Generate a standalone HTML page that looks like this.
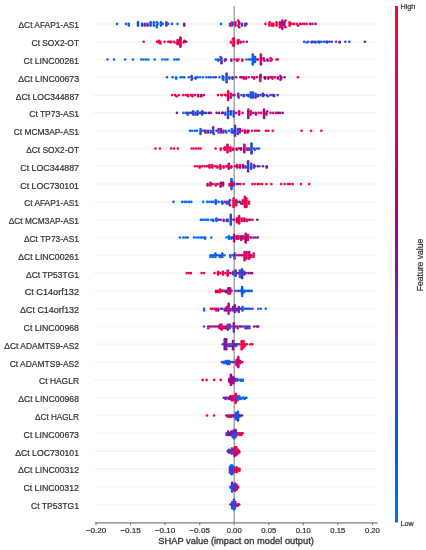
<!DOCTYPE html>
<html><head><meta charset="utf-8"><style>
html,body{margin:0;padding:0;background:#fff;}
svg{display:block;will-change:transform;}
text{font-family:"Liberation Sans",sans-serif;}
</style></head><body>
<svg width="426" height="550" viewBox="0 0 426 550">
<defs><linearGradient id="cb" x1="0" y1="0" x2="0" y2="1"><stop offset="0.000" stop-color="#ff0036"/><stop offset="0.050" stop-color="#fe0041"/><stop offset="0.100" stop-color="#f6004b"/><stop offset="0.150" stop-color="#ed0056"/><stop offset="0.200" stop-color="#e20060"/><stop offset="0.250" stop-color="#d6006b"/><stop offset="0.300" stop-color="#c70075"/><stop offset="0.350" stop-color="#b8007e"/><stop offset="0.400" stop-color="#a70087"/><stop offset="0.450" stop-color="#950990"/><stop offset="0.500" stop-color="#831297"/><stop offset="0.550" stop-color="#761ea6"/><stop offset="0.600" stop-color="#692ab5"/><stop offset="0.650" stop-color="#5934c2"/><stop offset="0.700" stop-color="#473ecf"/><stop offset="0.750" stop-color="#3147da"/><stop offset="0.800" stop-color="#1250e3"/><stop offset="0.850" stop-color="#0058eb"/><stop offset="0.900" stop-color="#0061f2"/><stop offset="0.950" stop-color="#0068f6"/><stop offset="1.000" stop-color="#0070f9"/></linearGradient></defs>
<rect width="426" height="550" fill="#fff"/>
<g>
<g stroke="#f6f6f6" stroke-width="1.6"><line x1="93.5" x2="377.7" y1="23.9" y2="23.9"/><line x1="93.5" x2="377.7" y1="41.7" y2="41.7"/><line x1="93.5" x2="377.7" y1="59.5" y2="59.5"/><line x1="93.5" x2="377.7" y1="77.3" y2="77.3"/><line x1="93.5" x2="377.7" y1="95.1" y2="95.1"/><line x1="93.5" x2="377.7" y1="112.9" y2="112.9"/><line x1="93.5" x2="377.7" y1="130.7" y2="130.7"/><line x1="93.5" x2="377.7" y1="148.5" y2="148.5"/><line x1="93.5" x2="377.7" y1="166.3" y2="166.3"/><line x1="93.5" x2="377.7" y1="184.1" y2="184.1"/><line x1="93.5" x2="377.7" y1="201.9" y2="201.9"/><line x1="93.5" x2="377.7" y1="219.7" y2="219.7"/><line x1="93.5" x2="377.7" y1="237.5" y2="237.5"/><line x1="93.5" x2="377.7" y1="255.3" y2="255.3"/><line x1="93.5" x2="377.7" y1="273.1" y2="273.1"/><line x1="93.5" x2="377.7" y1="290.9" y2="290.9"/><line x1="93.5" x2="377.7" y1="308.7" y2="308.7"/><line x1="93.5" x2="377.7" y1="326.5" y2="326.5"/><line x1="93.5" x2="377.7" y1="344.3" y2="344.3"/><line x1="93.5" x2="377.7" y1="362.1" y2="362.1"/><line x1="93.5" x2="377.7" y1="379.9" y2="379.9"/><line x1="93.5" x2="377.7" y1="397.7" y2="397.7"/><line x1="93.5" x2="377.7" y1="415.5" y2="415.5"/><line x1="93.5" x2="377.7" y1="433.3" y2="433.3"/><line x1="93.5" x2="377.7" y1="451.1" y2="451.1"/><line x1="93.5" x2="377.7" y1="468.9" y2="468.9"/><line x1="93.5" x2="377.7" y1="486.7" y2="486.7"/><line x1="93.5" x2="377.7" y1="504.5" y2="504.5"/></g>
<line x1="234.2" x2="234.2" y1="6.0" y2="522.8" stroke="#999" stroke-width="1.3"/>
<g><circle r="1.3" cx="265.4" cy="23.9" fill="#ff003b"/><circle r="1.3" cx="184.2" cy="25.6" fill="#8e0c92"/><circle r="1.3" cx="269.7" cy="22.2" fill="#f80049"/><circle r="1.3" cx="282.3" cy="20.6" fill="#c90074"/><circle r="1.3" cx="150.6" cy="22.2" fill="#1d4de1"/><circle r="1.3" cx="239.2" cy="22.2" fill="#9f038b"/><circle r="1.3" cx="128.8" cy="23.9" fill="#0062f3"/><circle r="1.3" cx="177.6" cy="23.9" fill="#006bf8"/><circle r="1.3" cx="150.6" cy="23.9" fill="#3545d8"/><circle r="1.3" cx="296.7" cy="23.9" fill="#ec0057"/><circle r="1.3" cx="160.9" cy="22.2" fill="#005bee"/><circle r="1.3" cx="269.4" cy="23.9" fill="#ff003d"/><circle r="1.3" cx="282.3" cy="22.2" fill="#a40089"/><circle r="1.3" cx="284.4" cy="23.9" fill="#b6007f"/><circle r="1.3" cx="235.4" cy="23.9" fill="#ff003b"/><circle r="1.3" cx="304.4" cy="23.9" fill="#e8005b"/><circle r="1.3" cx="282.3" cy="27.2" fill="#e6005d"/><circle r="1.3" cx="271.9" cy="25.6" fill="#ff0037"/><circle r="1.3" cx="273.4" cy="23.9" fill="#eb0058"/><circle r="1.3" cx="284.4" cy="25.6" fill="#b40081"/><circle r="1.3" cx="156.8" cy="25.6" fill="#0057ea"/><circle r="1.3" cx="147.5" cy="23.9" fill="#5f30be"/><circle r="1.3" cx="162.7" cy="23.9" fill="#4d3bcb"/><circle r="1.3" cx="166.4" cy="22.2" fill="#2e48db"/><circle r="1.3" cx="230.0" cy="23.9" fill="#f3004f"/><circle r="1.3" cx="271.9" cy="23.9" fill="#ff003d"/><circle r="1.3" cx="153.9" cy="25.6" fill="#005ef0"/><circle r="1.3" cx="138.0" cy="25.6" fill="#0054e8"/><circle r="1.3" cx="153.9" cy="23.9" fill="#006cf8"/><circle r="1.3" cx="300.1" cy="23.9" fill="#e4005f"/><circle r="1.3" cx="238.2" cy="20.6" fill="#ff0039"/><circle r="1.3" cx="282.3" cy="28.9" fill="#d6006a"/><circle r="1.3" cx="312.4" cy="23.9" fill="#a70087"/><circle r="1.3" cx="153.9" cy="22.2" fill="#0062f2"/><circle r="1.3" cx="156.8" cy="27.2" fill="#0061f2"/><circle r="1.3" cx="144.7" cy="25.6" fill="#7321aa"/><circle r="1.3" cx="232.0" cy="22.2" fill="#0068f6"/><circle r="1.3" cx="156.8" cy="22.2" fill="#4041d3"/><circle r="1.3" cx="142.1" cy="23.9" fill="#0056e9"/><circle r="1.3" cx="298.0" cy="25.6" fill="#ff003c"/><circle r="1.3" cx="147.6" cy="25.6" fill="#821298"/><circle r="1.3" cx="245.2" cy="25.6" fill="#612fbc"/><circle r="1.3" cx="279.9" cy="22.2" fill="#d6006a"/><circle r="1.3" cx="232.0" cy="25.6" fill="#006bf8"/><circle r="1.3" cx="276.6" cy="22.2" fill="#fd0042"/><circle r="1.3" cx="160.9" cy="25.6" fill="#005cee"/><circle r="1.3" cx="291.7" cy="23.9" fill="#ff003c"/><circle r="1.3" cx="242.0" cy="25.6" fill="#5437c6"/><circle r="1.3" cx="285.6" cy="20.6" fill="#f5004d"/><circle r="1.3" cx="117.1" cy="23.9" fill="#006bf8"/><circle r="1.3" cx="150.6" cy="25.6" fill="#194ee2"/><circle r="1.3" cx="269.4" cy="25.6" fill="#ff0039"/><circle r="1.3" cx="246.6" cy="23.9" fill="#5835c3"/><circle r="1.3" cx="128.8" cy="25.6" fill="#0068f6"/><circle r="1.3" cx="279.9" cy="27.2" fill="#ff003a"/><circle r="1.3" cx="315.6" cy="23.9" fill="#a70087"/><circle r="1.3" cx="276.6" cy="25.6" fill="#f3004f"/><circle r="1.3" cx="282.3" cy="25.6" fill="#e00062"/><circle r="1.3" cx="289.6" cy="22.2" fill="#f90048"/><circle r="1.3" cx="276.6" cy="23.9" fill="#ff003b"/><circle r="1.3" cx="238.2" cy="25.6" fill="#ff003d"/><circle r="1.3" cx="239.2" cy="27.2" fill="#98078e"/><circle r="1.3" cx="294.0" cy="23.9" fill="#ef0054"/><circle r="1.3" cx="239.2" cy="23.9" fill="#d0006f"/><circle r="1.3" cx="233.3" cy="23.9" fill="#ef0054"/><circle r="1.3" cx="142.1" cy="25.6" fill="#3147da"/><circle r="1.3" cx="221.1" cy="23.9" fill="#006bf8"/><circle r="1.3" cx="282.3" cy="23.9" fill="#a0028b"/><circle r="1.3" cx="302.5" cy="23.9" fill="#ec0057"/><circle r="1.3" cx="245.2" cy="23.9" fill="#642dba"/><circle r="1.3" cx="144.7" cy="23.9" fill="#652db9"/><circle r="1.3" cx="138.0" cy="23.9" fill="#3645d8"/><circle r="1.3" cx="157.7" cy="23.9" fill="#0068f6"/><circle r="1.3" cx="138.0" cy="22.2" fill="#0452e6"/><circle r="1.3" cx="166.4" cy="25.6" fill="#483dce"/><circle r="1.3" cx="279.8" cy="23.9" fill="#841196"/><circle r="1.3" cx="184.2" cy="23.9" fill="#7f159b"/><circle r="1.3" cx="166.4" cy="23.9" fill="#761fa7"/><circle r="1.3" cx="172.0" cy="23.9" fill="#006bf8"/><circle r="1.3" cx="242.0" cy="23.9" fill="#6c27b2"/><circle r="1.3" cx="289.6" cy="25.6" fill="#fb0045"/><circle r="1.3" cx="160.9" cy="23.9" fill="#0063f3"/><circle r="1.3" cx="310.0" cy="23.9" fill="#a70087"/><circle r="1.3" cx="235.4" cy="25.6" fill="#fc0044"/><circle r="1.3" cx="235.4" cy="22.2" fill="#e8005b"/><circle r="1.3" cx="230.0" cy="25.6" fill="#f3004f"/><circle r="1.3" cx="284.4" cy="22.2" fill="#9d048c"/><circle r="1.3" cx="279.9" cy="25.6" fill="#df0063"/><circle r="1.3" cx="306.7" cy="23.9" fill="#f3004f"/><circle r="1.3" cx="168.2" cy="23.9" fill="#006bf8"/><circle r="1.3" cx="126.0" cy="23.9" fill="#006bf8"/><circle r="1.3" cx="273.4" cy="25.6" fill="#fa0047"/><circle r="1.3" cx="232.0" cy="23.9" fill="#006af7"/><circle r="1.3" cx="289.6" cy="23.9" fill="#ff0037"/><circle r="1.3" cx="285.6" cy="27.2" fill="#ff0038"/><circle r="1.3" cx="364.9" cy="41.7" fill="#950990"/><circle r="1.3" cx="168.2" cy="41.7" fill="#ff003c"/><circle r="1.3" cx="232.9" cy="39.2" fill="#fa0046"/><circle r="1.3" cx="170.8" cy="42.5" fill="#f5004d"/><circle r="1.3" cx="160.4" cy="41.7" fill="#ff0037"/><circle r="1.3" cx="313.2" cy="41.7" fill="#5636c5"/><circle r="1.3" cx="177.7" cy="40.9" fill="#c80074"/><circle r="1.3" cx="158.8" cy="40.9" fill="#ff003f"/><circle r="1.3" cx="180.4" cy="43.4" fill="#d1006e"/><circle r="1.3" cx="308.3" cy="41.7" fill="#5a34c2"/><circle r="1.3" cx="177.7" cy="40.0" fill="#f80049"/><circle r="1.3" cx="180.4" cy="40.9" fill="#eb0058"/><circle r="1.3" cx="240.7" cy="41.7" fill="#a2018a"/><circle r="1.3" cx="349.3" cy="41.7" fill="#254bde"/><circle r="1.3" cx="180.4" cy="41.7" fill="#da0067"/><circle r="1.3" cx="231.0" cy="41.7" fill="#f8004a"/><circle r="1.3" cx="238.5" cy="40.0" fill="#bf007a"/><circle r="1.3" cx="177.7" cy="41.7" fill="#c40077"/><circle r="1.3" cx="180.4" cy="39.2" fill="#c50077"/><circle r="1.3" cx="180.4" cy="46.7" fill="#f4004e"/><circle r="1.3" cx="318.2" cy="41.7" fill="#5b33c1"/><circle r="1.3" cx="231.0" cy="42.5" fill="#ff003f"/><circle r="1.3" cx="237.9" cy="41.7" fill="#fa0047"/><circle r="1.3" cx="246.8" cy="41.7" fill="#950990"/><circle r="1.3" cx="177.7" cy="43.4" fill="#ed0055"/><circle r="1.3" cx="180.4" cy="42.5" fill="#e5005e"/><circle r="1.3" cx="304.2" cy="41.7" fill="#0067f6"/><circle r="1.3" cx="174.6" cy="42.5" fill="#e20060"/><circle r="1.3" cx="233.8" cy="41.7" fill="#fe0041"/><circle r="1.3" cx="315.4" cy="41.7" fill="#4f39c9"/><circle r="1.3" cx="160.4" cy="43.4" fill="#ff003f"/><circle r="1.3" cx="319.0" cy="42.5" fill="#006cf8"/><circle r="1.3" cx="232.9" cy="45.0" fill="#fe0041"/><circle r="1.3" cx="336.1" cy="41.7" fill="#652db9"/><circle r="1.3" cx="331.8" cy="41.7" fill="#642dba"/><circle r="1.3" cx="326.3" cy="41.7" fill="#006bf7"/><circle r="1.3" cx="183.5" cy="42.5" fill="#fd0042"/><circle r="1.3" cx="339.6" cy="42.5" fill="#751fa8"/><circle r="1.3" cx="233.8" cy="44.2" fill="#ef0054"/><circle r="1.3" cx="237.9" cy="43.4" fill="#ff003a"/><circle r="1.3" cx="233.8" cy="38.4" fill="#fe0040"/><circle r="1.3" cx="321.2" cy="41.7" fill="#005bee"/><circle r="1.3" cx="240.7" cy="42.5" fill="#d3006d"/><circle r="1.3" cx="233.8" cy="45.9" fill="#fc0043"/><circle r="1.3" cx="237.9" cy="40.9" fill="#f00052"/><circle r="1.3" cx="329.4" cy="41.7" fill="#692ab5"/><circle r="1.3" cx="170.8" cy="41.7" fill="#e5005e"/><circle r="1.3" cx="180.4" cy="38.4" fill="#c90074"/><circle r="1.3" cx="243.5" cy="41.7" fill="#d3006d"/><circle r="1.3" cx="233.8" cy="42.5" fill="#fd0042"/><circle r="1.3" cx="186.3" cy="41.7" fill="#c70075"/><circle r="1.3" cx="319.0" cy="41.7" fill="#0060f2"/><circle r="1.3" cx="311.7" cy="41.7" fill="#463ecf"/><circle r="1.3" cx="157.0" cy="41.7" fill="#ff0036"/><circle r="1.3" cx="306.8" cy="42.5" fill="#0067f6"/><circle r="1.3" cx="164.6" cy="41.7" fill="#ff003e"/><circle r="1.3" cx="327.1" cy="41.7" fill="#3f41d3"/><circle r="1.3" cx="158.8" cy="42.5" fill="#ff003f"/><circle r="1.3" cx="323.9" cy="41.7" fill="#005eef"/><circle r="1.3" cx="173.6" cy="41.7" fill="#ff0036"/><circle r="1.3" cx="180.4" cy="45.9" fill="#e3005f"/><circle r="1.3" cx="180.4" cy="45.0" fill="#c30078"/><circle r="1.3" cx="311.7" cy="42.5" fill="#0059ec"/><circle r="1.3" cx="345.3" cy="41.7" fill="#473ecf"/><circle r="1.3" cx="237.9" cy="42.5" fill="#ea0059"/><circle r="1.3" cx="233.8" cy="40.0" fill="#ff003c"/><circle r="1.3" cx="315.4" cy="42.5" fill="#6d26b0"/><circle r="1.3" cx="327.1" cy="42.5" fill="#0054e7"/><circle r="1.3" cx="184.5" cy="40.9" fill="#b50080"/><circle r="1.3" cx="180.4" cy="44.2" fill="#f80049"/><circle r="1.3" cx="177.7" cy="42.5" fill="#e10061"/><circle r="1.3" cx="143.7" cy="41.7" fill="#ff003c"/><circle r="1.3" cx="170.0" cy="41.7" fill="#fe0040"/><circle r="1.3" cx="184.5" cy="41.7" fill="#c80075"/><circle r="1.3" cx="180.4" cy="40.0" fill="#d0006f"/><circle r="1.3" cx="180.4" cy="37.5" fill="#e4005f"/><circle r="1.3" cx="233.8" cy="43.4" fill="#fe0040"/><circle r="1.3" cx="233.8" cy="40.9" fill="#ea0059"/><circle r="1.3" cx="339.6" cy="41.7" fill="#6a29b4"/><circle r="1.3" cx="177.7" cy="44.2" fill="#c90074"/><circle r="1.3" cx="263.6" cy="59.5" fill="#ce0071"/><circle r="1.3" cx="234.5" cy="59.5" fill="#ff003c"/><circle r="1.3" cx="255.0" cy="60.8" fill="#2e48db"/><circle r="1.3" cx="255.0" cy="58.2" fill="#4340d1"/><circle r="1.3" cx="218.2" cy="60.8" fill="#0069f7"/><circle r="1.3" cx="220.5" cy="57.0" fill="#0065f5"/><circle r="1.3" cx="270.6" cy="60.8" fill="#ab0085"/><circle r="1.3" cx="267.6" cy="60.8" fill="#a1028b"/><circle r="1.3" cx="252.8" cy="60.8" fill="#254bde"/><circle r="1.3" cx="260.9" cy="60.8" fill="#ef0053"/><circle r="1.3" cx="174.3" cy="59.5" fill="#006bf8"/><circle r="1.3" cx="252.8" cy="63.2" fill="#3645d8"/><circle r="1.3" cx="246.4" cy="59.5" fill="#006bf8"/><circle r="1.3" cx="257.0" cy="59.5" fill="#0061f2"/><circle r="1.3" cx="218.2" cy="59.5" fill="#0066f5"/><circle r="1.3" cx="252.8" cy="58.2" fill="#0057ea"/><circle r="1.3" cx="250.5" cy="59.5" fill="#2c49dc"/><circle r="1.3" cx="237.1" cy="59.5" fill="#ef0054"/><circle r="1.3" cx="141.3" cy="59.5" fill="#006bf8"/><circle r="1.3" cx="114.1" cy="59.5" fill="#006bf8"/><circle r="1.3" cx="260.9" cy="54.5" fill="#da0068"/><circle r="1.3" cx="220.5" cy="59.5" fill="#0067f6"/><circle r="1.3" cx="272.0" cy="59.5" fill="#ff003c"/><circle r="1.3" cx="242.2" cy="60.8" fill="#e5005e"/><circle r="1.3" cx="248.7" cy="59.5" fill="#006bf8"/><circle r="1.3" cx="252.8" cy="62.0" fill="#006df8"/><circle r="1.3" cx="252.8" cy="64.5" fill="#006df8"/><circle r="1.3" cx="276.5" cy="59.5" fill="#d4006c"/><circle r="1.3" cx="237.1" cy="60.8" fill="#f5004d"/><circle r="1.3" cx="277.7" cy="59.5" fill="#dd0065"/><circle r="1.3" cx="162.3" cy="59.5" fill="#0069f7"/><circle r="1.3" cx="260.9" cy="57.0" fill="#d5006b"/><circle r="1.3" cx="260.9" cy="59.5" fill="#d80068"/><circle r="1.3" cx="154.7" cy="59.5" fill="#006bf8"/><circle r="1.3" cx="148.3" cy="59.5" fill="#006bf8"/><circle r="1.3" cx="143.6" cy="59.5" fill="#006bf8"/><circle r="1.3" cx="255.0" cy="59.5" fill="#0064f4"/><circle r="1.3" cx="238.5" cy="59.5" fill="#ee0055"/><circle r="1.3" cx="224.9" cy="60.8" fill="#3346d9"/><circle r="1.3" cx="260.9" cy="55.8" fill="#d70069"/><circle r="1.3" cx="252.8" cy="54.5" fill="#3545d8"/><circle r="1.3" cx="231.3" cy="59.5" fill="#5636c5"/><circle r="1.3" cx="260.9" cy="63.2" fill="#eb0058"/><circle r="1.3" cx="255.0" cy="62.0" fill="#005bed"/><circle r="1.3" cx="264.5" cy="60.8" fill="#cd0071"/><circle r="1.3" cx="231.3" cy="60.8" fill="#7520a8"/><circle r="1.3" cx="125.2" cy="59.5" fill="#006bf8"/><circle r="1.3" cx="260.9" cy="62.0" fill="#e00062"/><circle r="1.3" cx="215.9" cy="59.5" fill="#0064f4"/><circle r="1.3" cx="263.6" cy="58.2" fill="#d90068"/><circle r="1.3" cx="252.8" cy="59.5" fill="#0054e7"/><circle r="1.3" cx="252.8" cy="57.0" fill="#0070f9"/><circle r="1.3" cx="145.9" cy="59.5" fill="#006bf8"/><circle r="1.3" cx="255.0" cy="57.0" fill="#005aed"/><circle r="1.3" cx="165.1" cy="59.5" fill="#0069f6"/><circle r="1.3" cx="221.5" cy="62.0" fill="#3147da"/><circle r="1.3" cx="221.5" cy="60.8" fill="#682bb6"/><circle r="1.3" cx="270.6" cy="58.2" fill="#bc007c"/><circle r="1.3" cx="226.0" cy="59.5" fill="#831297"/><circle r="1.3" cx="242.2" cy="59.5" fill="#ea0059"/><circle r="1.3" cx="107.5" cy="59.5" fill="#006bf8"/><circle r="1.3" cx="260.9" cy="58.2" fill="#a30189"/><circle r="1.3" cx="221.5" cy="58.2" fill="#5b33c1"/><circle r="1.3" cx="176.7" cy="59.5" fill="#006bf8"/><circle r="1.3" cx="267.6" cy="59.5" fill="#ae0084"/><circle r="1.3" cx="257.9" cy="59.5" fill="#fb0045"/><circle r="1.3" cx="133.0" cy="59.5" fill="#006bf8"/><circle r="1.3" cx="221.5" cy="63.2" fill="#662cb8"/><circle r="1.3" cx="260.9" cy="64.5" fill="#b7007f"/><circle r="1.3" cx="252.8" cy="55.8" fill="#005ff0"/><circle r="1.3" cx="167.5" cy="59.5" fill="#0061f2"/><circle r="1.3" cx="178.5" cy="59.5" fill="#006bf8"/><circle r="1.3" cx="224.9" cy="59.5" fill="#632ebb"/><circle r="1.3" cx="265.2" cy="77.3" fill="#ac0085"/><circle r="1.3" cx="213.4" cy="77.3" fill="#006af7"/><circle r="1.3" cx="202.9" cy="77.3" fill="#006bf8"/><circle r="1.3" cx="260.2" cy="79.8" fill="#99078e"/><circle r="1.3" cx="226.6" cy="76.1" fill="#6b28b3"/><circle r="1.3" cx="210.9" cy="77.3" fill="#0065f4"/><circle r="1.3" cx="195.7" cy="78.6" fill="#005def"/><circle r="1.3" cx="280.4" cy="79.8" fill="#ec0057"/><circle r="1.3" cx="232.5" cy="78.6" fill="#80159a"/><circle r="1.3" cx="226.6" cy="82.3" fill="#5835c3"/><circle r="1.3" cx="219.4" cy="77.3" fill="#006bf8"/><circle r="1.3" cx="277.9" cy="77.3" fill="#c70075"/><circle r="1.3" cx="252.2" cy="77.3" fill="#b00083"/><circle r="1.3" cx="270.4" cy="77.3" fill="#ff003a"/><circle r="1.3" cx="240.3" cy="77.3" fill="#ff003c"/><circle r="1.3" cx="280.4" cy="76.1" fill="#ad0085"/><circle r="1.3" cx="188.8" cy="77.3" fill="#1b4ee1"/><circle r="1.3" cx="226.6" cy="79.8" fill="#006ff9"/><circle r="1.3" cx="208.7" cy="77.3" fill="#006af7"/><circle r="1.3" cx="215.7" cy="77.3" fill="#831297"/><circle r="1.3" cx="257.0" cy="77.3" fill="#c0007a"/><circle r="1.3" cx="191.6" cy="76.1" fill="#672bb7"/><circle r="1.3" cx="226.6" cy="78.6" fill="#244bdf"/><circle r="1.3" cx="226.6" cy="77.3" fill="#0066f5"/><circle r="1.3" cx="260.2" cy="78.6" fill="#f3004f"/><circle r="1.3" cx="265.2" cy="78.6" fill="#890f94"/><circle r="1.3" cx="180.6" cy="77.3" fill="#0066f5"/><circle r="1.3" cx="167.0" cy="77.3" fill="#006bf8"/><circle r="1.3" cx="223.5" cy="79.8" fill="#4f3aca"/><circle r="1.3" cx="246.0" cy="78.6" fill="#ed0056"/><circle r="1.3" cx="260.8" cy="74.8" fill="#cd0071"/><circle r="1.3" cx="229.4" cy="78.6" fill="#006df8"/><circle r="1.3" cx="226.6" cy="81.1" fill="#006bf7"/><circle r="1.3" cx="248.7" cy="77.3" fill="#d1006e"/><circle r="1.3" cx="281.2" cy="78.6" fill="#8f0c92"/><circle r="1.3" cx="191.6" cy="77.3" fill="#244bdf"/><circle r="1.3" cx="182.7" cy="77.3" fill="#0065f4"/><circle r="1.3" cx="284.6" cy="77.3" fill="#a50089"/><circle r="1.3" cx="272.0" cy="77.3" fill="#fe0040"/><circle r="1.3" cx="260.2" cy="81.1" fill="#f3004f"/><circle r="1.3" cx="222.6" cy="76.1" fill="#006bf8"/><circle r="1.3" cx="268.3" cy="78.6" fill="#b40081"/><circle r="1.3" cx="281.2" cy="77.3" fill="#99078e"/><circle r="1.3" cx="243.8" cy="78.6" fill="#c80075"/><circle r="1.3" cx="226.6" cy="73.6" fill="#672bb7"/><circle r="1.3" cx="191.6" cy="79.8" fill="#3a43d5"/><circle r="1.3" cx="222.6" cy="78.6" fill="#006bf8"/><circle r="1.3" cx="176.1" cy="78.6" fill="#0065f4"/><circle r="1.3" cx="197.4" cy="77.3" fill="#006bf8"/><circle r="1.3" cx="272.4" cy="77.3" fill="#9c058d"/><circle r="1.3" cx="264.5" cy="77.3" fill="#9a068e"/><circle r="1.3" cx="236.1" cy="77.3" fill="#831297"/><circle r="1.3" cx="206.3" cy="77.3" fill="#006bf8"/><circle r="1.3" cx="272.4" cy="78.6" fill="#f00053"/><circle r="1.3" cx="176.1" cy="77.3" fill="#0068f6"/><circle r="1.3" cx="297.9" cy="77.3" fill="#ff003c"/><circle r="1.3" cx="184.4" cy="77.3" fill="#0064f4"/><circle r="1.3" cx="229.4" cy="77.3" fill="#0062f3"/><circle r="1.3" cx="268.3" cy="77.3" fill="#e00062"/><circle r="1.3" cx="172.6" cy="77.3" fill="#0061f2"/><circle r="1.3" cx="199.9" cy="77.3" fill="#006bf8"/><circle r="1.3" cx="195.7" cy="77.3" fill="#1450e3"/><circle r="1.3" cx="232.5" cy="77.3" fill="#7024ad"/><circle r="1.3" cx="192.3" cy="78.6" fill="#612fbc"/><circle r="1.3" cx="277.9" cy="78.6" fill="#c30078"/><circle r="1.3" cx="260.2" cy="76.1" fill="#950990"/><circle r="1.3" cx="243.8" cy="77.3" fill="#df0063"/><circle r="1.3" cx="274.9" cy="77.3" fill="#f4004e"/><circle r="1.3" cx="241.8" cy="77.3" fill="#a0028b"/><circle r="1.3" cx="260.8" cy="77.3" fill="#bf007a"/><circle r="1.3" cx="223.5" cy="77.3" fill="#3545d8"/><circle r="1.3" cx="254.2" cy="77.3" fill="#c90074"/><circle r="1.3" cx="246.0" cy="77.3" fill="#ef0054"/><circle r="1.3" cx="226.6" cy="74.8" fill="#751fa8"/><circle r="1.3" cx="254.2" cy="78.6" fill="#c80074"/><circle r="1.3" cx="225.7" cy="95.1" fill="#fb0045"/><circle r="1.3" cx="262.9" cy="95.1" fill="#0059ec"/><circle r="1.3" cx="262.9" cy="96.3" fill="#0067f6"/><circle r="1.3" cx="252.8" cy="93.8" fill="#0055e8"/><circle r="1.3" cx="230.9" cy="93.8" fill="#c30077"/><circle r="1.3" cx="192.4" cy="95.1" fill="#ff0039"/><circle r="1.3" cx="172.2" cy="95.1" fill="#ff003c"/><circle r="1.3" cx="176.5" cy="96.3" fill="#ff003c"/><circle r="1.3" cx="203.9" cy="95.1" fill="#db0067"/><circle r="1.3" cx="266.8" cy="95.1" fill="#5536c5"/><circle r="1.3" cx="230.9" cy="97.6" fill="#aa0086"/><circle r="1.3" cx="238.2" cy="95.1" fill="#8a0e94"/><circle r="1.3" cx="238.2" cy="96.3" fill="#7024ae"/><circle r="1.3" cx="250.8" cy="96.3" fill="#005aed"/><circle r="1.3" cx="195.1" cy="95.1" fill="#e20060"/><circle r="1.3" cx="175.1" cy="95.1" fill="#ff003c"/><circle r="1.3" cx="272.5" cy="95.1" fill="#1d4de1"/><circle r="1.3" cx="241.5" cy="95.1" fill="#164fe3"/><circle r="1.3" cx="277.7" cy="95.1" fill="#5835c3"/><circle r="1.3" cx="274.1" cy="96.3" fill="#4a3ccd"/><circle r="1.3" cx="185.8" cy="95.1" fill="#ff0038"/><circle r="1.3" cx="255.6" cy="95.1" fill="#7024ad"/><circle r="1.3" cx="255.6" cy="96.3" fill="#005cee"/><circle r="1.3" cx="260.6" cy="95.1" fill="#0056e9"/><circle r="1.3" cx="188.2" cy="96.3" fill="#f90047"/><circle r="1.3" cx="218.0" cy="95.1" fill="#ff003c"/><circle r="1.3" cx="267.9" cy="96.3" fill="#254bde"/><circle r="1.3" cx="230.9" cy="96.3" fill="#fe0041"/><circle r="1.3" cx="201.3" cy="96.3" fill="#bd007b"/><circle r="1.3" cx="258.1" cy="95.1" fill="#761ea6"/><circle r="1.3" cx="228.1" cy="98.8" fill="#e8005b"/><circle r="1.3" cx="198.2" cy="95.1" fill="#af0083"/><circle r="1.3" cx="255.6" cy="97.6" fill="#3247da"/><circle r="1.3" cx="178.8" cy="95.1" fill="#ff003c"/><circle r="1.3" cx="238.2" cy="93.8" fill="#7e179d"/><circle r="1.3" cx="250.8" cy="93.8" fill="#0070f9"/><circle r="1.3" cx="252.8" cy="97.6" fill="#761fa7"/><circle r="1.3" cx="198.2" cy="96.3" fill="#cc0072"/><circle r="1.3" cx="250.8" cy="95.1" fill="#0059ec"/><circle r="1.3" cx="222.0" cy="95.1" fill="#ff003e"/><circle r="1.3" cx="225.0" cy="95.1" fill="#ff0039"/><circle r="1.3" cx="228.1" cy="91.3" fill="#dd0065"/><circle r="1.3" cx="274.1" cy="95.1" fill="#6f25ae"/><circle r="1.3" cx="248.6" cy="96.3" fill="#005bee"/><circle r="1.3" cx="228.1" cy="95.1" fill="#f7004a"/><circle r="1.3" cx="183.3" cy="95.1" fill="#ff0037"/><circle r="1.3" cx="270.4" cy="95.1" fill="#5934c2"/><circle r="1.3" cx="221.3" cy="95.1" fill="#ff003c"/><circle r="1.3" cx="246.8" cy="95.1" fill="#7c19a0"/><circle r="1.3" cx="228.1" cy="96.3" fill="#a0028b"/><circle r="1.3" cx="228.1" cy="93.8" fill="#ff003a"/><circle r="1.3" cx="228.2" cy="100.1" fill="#ff003c"/><circle r="1.3" cx="264.1" cy="95.1" fill="#781da4"/><circle r="1.3" cx="262.9" cy="93.8" fill="#6c27b1"/><circle r="1.3" cx="234.5" cy="95.1" fill="#5736c4"/><circle r="1.3" cx="201.3" cy="95.1" fill="#9d048c"/><circle r="1.3" cx="255.6" cy="93.8" fill="#294add"/><circle r="1.3" cx="228.2" cy="92.6" fill="#fe0041"/><circle r="1.3" cx="250.8" cy="97.6" fill="#006af7"/><circle r="1.3" cx="233.2" cy="95.1" fill="#da0067"/><circle r="1.3" cx="258.1" cy="96.3" fill="#6c27b2"/><circle r="1.3" cx="252.8" cy="92.6" fill="#005ef0"/><circle r="1.3" cx="244.0" cy="96.3" fill="#4f3ac9"/><circle r="1.3" cx="192.4" cy="96.3" fill="#e30060"/><circle r="1.3" cx="244.0" cy="95.1" fill="#254bde"/><circle r="1.3" cx="238.7" cy="97.6" fill="#3545d8"/><circle r="1.3" cx="252.8" cy="95.1" fill="#0067f5"/><circle r="1.3" cx="190.6" cy="95.1" fill="#fa0046"/><circle r="1.3" cx="250.8" cy="92.6" fill="#0067f6"/><circle r="1.3" cx="187.7" cy="95.1" fill="#ff0038"/><circle r="1.3" cx="228.1" cy="97.6" fill="#a30189"/><circle r="1.3" cx="252.8" cy="96.3" fill="#5139c8"/><circle r="1.3" cx="248.6" cy="95.1" fill="#005bed"/><circle r="1.3" cx="230.9" cy="95.1" fill="#fd0042"/><circle r="1.3" cx="239.2" cy="114.6" fill="#a2018a"/><circle r="1.3" cx="230.7" cy="114.6" fill="#5c32c0"/><circle r="1.3" cx="267.3" cy="111.2" fill="#d70069"/><circle r="1.3" cx="228.0" cy="117.9" fill="#0054e7"/><circle r="1.3" cx="195.6" cy="112.9" fill="#274bde"/><circle r="1.3" cx="216.6" cy="112.9" fill="#831197"/><circle r="1.3" cx="255.9" cy="112.9" fill="#c20078"/><circle r="1.3" cx="255.9" cy="114.6" fill="#cc0072"/><circle r="1.3" cx="210.8" cy="112.9" fill="#900c92"/><circle r="1.3" cx="208.8" cy="112.9" fill="#900b92"/><circle r="1.3" cx="225.3" cy="114.6" fill="#254bde"/><circle r="1.3" cx="280.1" cy="112.9" fill="#9c058d"/><circle r="1.3" cx="228.0" cy="112.9" fill="#006af7"/><circle r="1.3" cx="233.7" cy="111.2" fill="#254bde"/><circle r="1.3" cx="193.2" cy="112.9" fill="#5a34c2"/><circle r="1.3" cx="276.1" cy="112.9" fill="#da0067"/><circle r="1.3" cx="197.6" cy="111.2" fill="#0062f3"/><circle r="1.3" cx="248.3" cy="111.2" fill="#9f038b"/><circle r="1.3" cx="233.7" cy="114.6" fill="#005bed"/><circle r="1.3" cx="189.7" cy="112.9" fill="#0059eb"/><circle r="1.3" cx="250.7" cy="112.9" fill="#e5005e"/><circle r="1.3" cx="197.6" cy="114.6" fill="#642db9"/><circle r="1.3" cx="228.0" cy="109.6" fill="#662cb8"/><circle r="1.3" cx="273.3" cy="112.9" fill="#cd0071"/><circle r="1.3" cx="248.3" cy="117.9" fill="#841196"/><circle r="1.3" cx="248.3" cy="116.2" fill="#920b91"/><circle r="1.3" cx="264.0" cy="116.2" fill="#c70075"/><circle r="1.3" cx="248.3" cy="109.6" fill="#d80068"/><circle r="1.3" cx="266.4" cy="112.9" fill="#a70088"/><circle r="1.3" cx="233.7" cy="112.9" fill="#005aed"/><circle r="1.3" cx="228.0" cy="107.9" fill="#006af7"/><circle r="1.3" cx="270.4" cy="112.9" fill="#dc0065"/><circle r="1.3" cx="230.7" cy="111.2" fill="#1050e4"/><circle r="1.3" cx="233.7" cy="116.2" fill="#0063f3"/><circle r="1.3" cx="248.3" cy="112.9" fill="#c30078"/><circle r="1.3" cx="250.7" cy="114.6" fill="#a80087"/><circle r="1.3" cx="191.9" cy="112.9" fill="#1e4de0"/><circle r="1.3" cx="253.3" cy="112.9" fill="#c60076"/><circle r="1.3" cx="203.9" cy="112.9" fill="#5c32c0"/><circle r="1.3" cx="264.0" cy="117.9" fill="#e7005c"/><circle r="1.3" cx="219.1" cy="112.9" fill="#7f169c"/><circle r="1.3" cx="264.0" cy="112.9" fill="#8d0d93"/><circle r="1.3" cx="266.4" cy="114.6" fill="#f4004f"/><circle r="1.3" cx="282.7" cy="112.9" fill="#9b068d"/><circle r="1.3" cx="222.1" cy="112.9" fill="#7e169c"/><circle r="1.3" cx="261.2" cy="112.9" fill="#f6004c"/><circle r="1.3" cx="183.4" cy="112.9" fill="#0068f6"/><circle r="1.3" cx="193.2" cy="111.2" fill="#5835c3"/><circle r="1.3" cx="278.0" cy="112.9" fill="#940990"/><circle r="1.3" cx="187.7" cy="112.9" fill="#642dba"/><circle r="1.3" cx="228.0" cy="114.6" fill="#254bde"/><circle r="1.3" cx="197.6" cy="112.9" fill="#005bed"/><circle r="1.3" cx="264.0" cy="114.6" fill="#920b91"/><circle r="1.3" cx="195.6" cy="114.6" fill="#005bed"/><circle r="1.3" cx="230.7" cy="112.9" fill="#0057ea"/><circle r="1.3" cx="206.0" cy="112.9" fill="#0054e8"/><circle r="1.3" cx="264.0" cy="111.2" fill="#a50088"/><circle r="1.3" cx="242.6" cy="112.9" fill="#e20060"/><circle r="1.3" cx="225.3" cy="112.9" fill="#0061f2"/><circle r="1.3" cx="193.2" cy="114.6" fill="#3546d8"/><circle r="1.3" cx="199.9" cy="112.9" fill="#3546d8"/><circle r="1.3" cx="228.0" cy="116.2" fill="#5636c5"/><circle r="1.3" cx="250.7" cy="111.2" fill="#df0063"/><circle r="1.3" cx="258.6" cy="112.9" fill="#db0066"/><circle r="1.3" cx="248.3" cy="114.6" fill="#b30081"/><circle r="1.3" cx="222.8" cy="112.9" fill="#831297"/><circle r="1.3" cx="239.2" cy="112.9" fill="#d90068"/><circle r="1.3" cx="236.2" cy="112.9" fill="#de0063"/><circle r="1.3" cx="239.2" cy="111.2" fill="#e00062"/><circle r="1.3" cx="202.1" cy="111.2" fill="#6c27b2"/><circle r="1.3" cx="185.9" cy="112.9" fill="#0063f3"/><circle r="1.3" cx="264.0" cy="109.6" fill="#9f038b"/><circle r="1.3" cx="202.1" cy="112.9" fill="#6e26b0"/><circle r="1.3" cx="202.1" cy="114.6" fill="#0058eb"/><circle r="1.3" cx="187.7" cy="114.6" fill="#5636c5"/><circle r="1.3" cx="176.9" cy="112.9" fill="#831297"/><circle r="1.3" cx="228.0" cy="111.2" fill="#7124ad"/><circle r="1.3" cx="321.3" cy="130.7" fill="#ff003c"/><circle r="1.3" cx="202.7" cy="130.7" fill="#0065f4"/><circle r="1.3" cx="240.0" cy="129.0" fill="#e5005e"/><circle r="1.3" cx="244.9" cy="130.7" fill="#f7004b"/><circle r="1.3" cx="244.9" cy="132.4" fill="#ff0038"/><circle r="1.3" cx="265.9" cy="130.7" fill="#ff003c"/><circle r="1.3" cx="237.8" cy="134.0" fill="#5338c7"/><circle r="1.3" cx="257.2" cy="130.7" fill="#ff003c"/><circle r="1.3" cx="247.7" cy="132.4" fill="#ff003a"/><circle r="1.3" cx="268.3" cy="130.7" fill="#ff003c"/><circle r="1.3" cx="207.9" cy="130.7" fill="#6b28b3"/><circle r="1.3" cx="235.1" cy="129.0" fill="#5c32c0"/><circle r="1.3" cx="235.1" cy="134.0" fill="#5b33c1"/><circle r="1.3" cx="259.1" cy="130.7" fill="#ff003c"/><circle r="1.3" cx="200.5" cy="130.7" fill="#4a3dcd"/><circle r="1.3" cx="207.9" cy="132.4" fill="#005cee"/><circle r="1.3" cx="204.6" cy="130.7" fill="#632eba"/><circle r="1.3" cx="245.2" cy="132.4" fill="#da0067"/><circle r="1.3" cx="237.8" cy="130.7" fill="#4041d3"/><circle r="1.3" cx="196.9" cy="130.7" fill="#006bf8"/><circle r="1.3" cx="252.0" cy="130.7" fill="#ea0059"/><circle r="1.3" cx="195.0" cy="130.7" fill="#006bf8"/><circle r="1.3" cx="248.6" cy="130.7" fill="#be007b"/><circle r="1.3" cx="242.3" cy="130.7" fill="#ed0056"/><circle r="1.3" cx="247.7" cy="130.7" fill="#b10083"/><circle r="1.3" cx="192.2" cy="130.7" fill="#006bf8"/><circle r="1.3" cx="205.4" cy="130.7" fill="#5b33c1"/><circle r="1.3" cx="272.8" cy="130.7" fill="#ff003c"/><circle r="1.3" cx="218.6" cy="130.7" fill="#224cdf"/><circle r="1.3" cx="218.6" cy="129.0" fill="#98088f"/><circle r="1.3" cx="210.6" cy="130.7" fill="#2c49dc"/><circle r="1.3" cx="213.2" cy="129.0" fill="#493dce"/><circle r="1.3" cx="213.2" cy="132.4" fill="#7d189e"/><circle r="1.3" cx="223.4" cy="132.4" fill="#652cb9"/><circle r="1.3" cx="226.4" cy="132.4" fill="#0067f5"/><circle r="1.3" cx="216.5" cy="130.7" fill="#7024ae"/><circle r="1.3" cx="233.0" cy="130.7" fill="#6d27b1"/><circle r="1.3" cx="200.5" cy="134.0" fill="#006bf8"/><circle r="1.3" cx="235.1" cy="127.4" fill="#5e31be"/><circle r="1.3" cx="245.2" cy="130.7" fill="#c60076"/><circle r="1.3" cx="221.1" cy="132.4" fill="#7322aa"/><circle r="1.3" cx="231.7" cy="132.4" fill="#005cef"/><circle r="1.3" cx="235.1" cy="125.7" fill="#612fbc"/><circle r="1.3" cx="240.0" cy="130.7" fill="#db0066"/><circle r="1.3" cx="255.1" cy="130.7" fill="#c80074"/><circle r="1.3" cx="235.1" cy="132.4" fill="#612fbc"/><circle r="1.3" cx="235.1" cy="135.7" fill="#5f30bd"/><circle r="1.3" cx="235.1" cy="130.7" fill="#831197"/><circle r="1.3" cx="213.2" cy="127.4" fill="#de0064"/><circle r="1.3" cx="237.8" cy="129.0" fill="#224cdf"/><circle r="1.3" cx="213.2" cy="130.7" fill="#005ff1"/><circle r="1.3" cx="221.1" cy="129.0" fill="#5636c5"/><circle r="1.3" cx="221.1" cy="130.7" fill="#9f038b"/><circle r="1.3" cx="225.6" cy="130.7" fill="#0066f5"/><circle r="1.3" cx="190.0" cy="130.7" fill="#006bf8"/><circle r="1.3" cx="218.6" cy="132.4" fill="#0066f5"/><circle r="1.3" cx="239.8" cy="132.4" fill="#3645d7"/><circle r="1.3" cx="231.7" cy="130.7" fill="#006df8"/><circle r="1.3" cx="213.8" cy="134.0" fill="#6c27b2"/><circle r="1.3" cx="228.9" cy="130.7" fill="#0061f2"/><circle r="1.3" cx="200.5" cy="132.4" fill="#483dce"/><circle r="1.3" cx="311.1" cy="130.7" fill="#ff003c"/><circle r="1.3" cx="223.4" cy="130.7" fill="#c20079"/><circle r="1.3" cx="301.6" cy="130.7" fill="#ff003c"/><circle r="1.3" cx="200.5" cy="129.0" fill="#006bf8"/><circle r="1.3" cx="233.0" cy="132.4" fill="#0a51e5"/><circle r="1.3" cx="231.7" cy="129.0" fill="#006cf8"/><circle r="1.3" cx="237.8" cy="132.4" fill="#3a44d6"/><circle r="1.3" cx="210.6" cy="132.4" fill="#6e26b0"/><circle r="1.3" cx="205.4" cy="132.4" fill="#b7007f"/><circle r="1.3" cx="224.8" cy="147.2" fill="#fb0045"/><circle r="1.3" cx="227.5" cy="148.5" fill="#cb0073"/><circle r="1.3" cx="257.2" cy="148.5" fill="#0061f2"/><circle r="1.3" cx="200.5" cy="148.5" fill="#ff0038"/><circle r="1.3" cx="244.3" cy="148.5" fill="#d6006a"/><circle r="1.3" cx="251.5" cy="144.8" fill="#006cf8"/><circle r="1.3" cx="227.5" cy="152.2" fill="#eb0058"/><circle r="1.3" cx="174.0" cy="148.5" fill="#ff003c"/><circle r="1.3" cx="244.3" cy="152.2" fill="#851096"/><circle r="1.3" cx="251.5" cy="151.0" fill="#7421aa"/><circle r="1.3" cx="191.7" cy="148.5" fill="#ff0037"/><circle r="1.3" cx="230.4" cy="149.8" fill="#fe0041"/><circle r="1.3" cx="251.5" cy="152.2" fill="#682ab5"/><circle r="1.3" cx="238.9" cy="148.5" fill="#ad0085"/><circle r="1.3" cx="244.3" cy="149.8" fill="#c30078"/><circle r="1.3" cx="230.4" cy="147.2" fill="#ec0056"/><circle r="1.3" cx="227.5" cy="147.2" fill="#fa0046"/><circle r="1.3" cx="159.9" cy="148.5" fill="#ff003c"/><circle r="1.3" cx="248.9" cy="149.8" fill="#0060f1"/><circle r="1.3" cx="227.5" cy="149.8" fill="#eb0058"/><circle r="1.3" cx="244.3" cy="144.8" fill="#b8007f"/><circle r="1.3" cx="227.5" cy="144.8" fill="#df0063"/><circle r="1.3" cx="215.6" cy="148.5" fill="#ff003c"/><circle r="1.3" cx="241.1" cy="149.8" fill="#d1006e"/><circle r="1.3" cx="198.5" cy="148.5" fill="#ff0039"/><circle r="1.3" cx="230.4" cy="151.0" fill="#de0064"/><circle r="1.3" cx="236.7" cy="148.5" fill="#ce0070"/><circle r="1.3" cx="248.9" cy="148.5" fill="#224cdf"/><circle r="1.3" cx="223.8" cy="148.5" fill="#fd0041"/><circle r="1.3" cx="247.1" cy="148.5" fill="#e6005d"/><circle r="1.3" cx="241.1" cy="148.5" fill="#db0067"/><circle r="1.3" cx="236.7" cy="149.8" fill="#c50077"/><circle r="1.3" cx="244.3" cy="151.0" fill="#97088f"/><circle r="1.3" cx="251.5" cy="143.5" fill="#1b4ee1"/><circle r="1.3" cx="233.2" cy="149.8" fill="#e00062"/><circle r="1.3" cx="247.1" cy="149.8" fill="#db0067"/><circle r="1.3" cx="255.0" cy="149.8" fill="#0066f5"/><circle r="1.3" cx="259.1" cy="148.5" fill="#0065f5"/><circle r="1.3" cx="251.5" cy="146.0" fill="#4c3bcc"/><circle r="1.3" cx="251.5" cy="153.5" fill="#0055e8"/><circle r="1.3" cx="220.7" cy="148.5" fill="#ff003e"/><circle r="1.3" cx="251.5" cy="148.5" fill="#443fd0"/><circle r="1.3" cx="155.4" cy="148.5" fill="#ff003c"/><circle r="1.3" cx="244.3" cy="146.0" fill="#851096"/><circle r="1.3" cx="177.9" cy="148.5" fill="#ff003c"/><circle r="1.3" cx="254.2" cy="148.5" fill="#6a29b4"/><circle r="1.3" cx="227.5" cy="151.0" fill="#fe0041"/><circle r="1.3" cx="171.2" cy="148.5" fill="#ff003c"/><circle r="1.3" cx="251.5" cy="147.2" fill="#4141d2"/><circle r="1.3" cx="227.5" cy="146.0" fill="#df0063"/><circle r="1.3" cx="244.3" cy="147.2" fill="#d5006b"/><circle r="1.3" cx="196.1" cy="148.5" fill="#ff003e"/><circle r="1.3" cx="251.5" cy="149.8" fill="#0065f4"/><circle r="1.3" cx="220.7" cy="149.8" fill="#ff0039"/><circle r="1.3" cx="224.8" cy="149.8" fill="#cd0071"/><circle r="1.3" cx="193.7" cy="148.5" fill="#ff003b"/><circle r="1.3" cx="233.2" cy="148.5" fill="#dc0066"/><circle r="1.3" cx="240.9" cy="148.5" fill="#9d048c"/><circle r="1.3" cx="230.4" cy="148.5" fill="#ff003f"/><circle r="1.3" cx="224.8" cy="148.5" fill="#ff003b"/><circle r="1.3" cx="217.4" cy="167.6" fill="#da0067"/><circle r="1.3" cx="254.0" cy="165.1" fill="#4c3bcb"/><circle r="1.3" cx="228.8" cy="163.8" fill="#df0063"/><circle r="1.3" cx="251.2" cy="163.8" fill="#821298"/><circle r="1.3" cx="220.4" cy="166.3" fill="#e90059"/><circle r="1.3" cx="209.5" cy="165.1" fill="#fa0046"/><circle r="1.3" cx="199.8" cy="166.3" fill="#ff0036"/><circle r="1.3" cx="207.0" cy="166.3" fill="#fa0046"/><circle r="1.3" cx="212.3" cy="166.3" fill="#ea0059"/><circle r="1.3" cx="257.7" cy="166.3" fill="#d2006d"/><circle r="1.3" cx="228.8" cy="168.8" fill="#cb0073"/><circle r="1.3" cx="209.5" cy="167.6" fill="#de0064"/><circle r="1.3" cx="197.5" cy="166.3" fill="#ff0037"/><circle r="1.3" cx="231.3" cy="167.6" fill="#d80069"/><circle r="1.3" cx="228.8" cy="165.1" fill="#b00083"/><circle r="1.3" cx="228.8" cy="167.6" fill="#cc0072"/><circle r="1.3" cx="248.1" cy="166.3" fill="#0055e8"/><circle r="1.3" cx="243.1" cy="167.6" fill="#d80069"/><circle r="1.3" cx="248.1" cy="161.3" fill="#632eba"/><circle r="1.3" cx="248.1" cy="170.1" fill="#0065f5"/><circle r="1.3" cx="237.2" cy="166.3" fill="#a40089"/><circle r="1.3" cx="220.3" cy="165.1" fill="#ff003e"/><circle r="1.3" cx="243.1" cy="165.1" fill="#d6006a"/><circle r="1.3" cx="209.5" cy="166.3" fill="#f3004f"/><circle r="1.3" cx="235.0" cy="166.3" fill="#e5005e"/><circle r="1.3" cx="266.7" cy="166.3" fill="#8a0e94"/><circle r="1.3" cx="248.1" cy="167.6" fill="#692ab5"/><circle r="1.3" cx="248.1" cy="162.6" fill="#4240d2"/><circle r="1.3" cx="259.4" cy="166.3" fill="#006bf8"/><circle r="1.3" cx="231.3" cy="166.3" fill="#cf006f"/><circle r="1.3" cx="245.5" cy="166.3" fill="#0067f5"/><circle r="1.3" cx="248.1" cy="168.8" fill="#005def"/><circle r="1.3" cx="251.2" cy="165.1" fill="#2d48db"/><circle r="1.3" cx="266.7" cy="167.6" fill="#8a0e94"/><circle r="1.3" cx="251.2" cy="168.8" fill="#622fbb"/><circle r="1.3" cx="215.1" cy="166.3" fill="#f80049"/><circle r="1.3" cx="254.0" cy="167.6" fill="#0069f7"/><circle r="1.3" cx="248.1" cy="165.1" fill="#0065f4"/><circle r="1.3" cx="220.3" cy="168.8" fill="#dd0064"/><circle r="1.3" cx="243.1" cy="166.3" fill="#ae0084"/><circle r="1.3" cx="237.2" cy="167.6" fill="#d90068"/><circle r="1.3" cx="212.3" cy="167.6" fill="#ff0038"/><circle r="1.3" cx="217.4" cy="166.3" fill="#f20050"/><circle r="1.3" cx="254.8" cy="166.3" fill="#af0083"/><circle r="1.3" cx="212.3" cy="165.1" fill="#f20050"/><circle r="1.3" cx="251.2" cy="167.6" fill="#0053e7"/><circle r="1.3" cx="240.0" cy="167.6" fill="#be007b"/><circle r="1.3" cx="248.1" cy="163.8" fill="#7e179d"/><circle r="1.3" cx="251.2" cy="166.3" fill="#0069f6"/><circle r="1.3" cx="240.0" cy="165.1" fill="#e8005b"/><circle r="1.3" cx="228.8" cy="166.3" fill="#e6005d"/><circle r="1.3" cx="262.9" cy="166.3" fill="#900c92"/><circle r="1.3" cx="248.1" cy="171.3" fill="#811399"/><circle r="1.3" cx="237.0" cy="165.1" fill="#e20061"/><circle r="1.3" cx="223.6" cy="167.6" fill="#f20051"/><circle r="1.3" cx="199.8" cy="167.6" fill="#ff003d"/><circle r="1.3" cx="226.5" cy="166.3" fill="#dd0065"/><circle r="1.3" cx="202.3" cy="166.3" fill="#ff0039"/><circle r="1.3" cx="245.5" cy="167.6" fill="#5f31be"/><circle r="1.3" cx="204.7" cy="166.3" fill="#ff0038"/><circle r="1.3" cx="195.0" cy="166.3" fill="#fe0040"/><circle r="1.3" cx="226.6" cy="166.3" fill="#f90048"/><circle r="1.3" cx="220.4" cy="167.6" fill="#fc0044"/><circle r="1.3" cx="223.6" cy="166.3" fill="#f10052"/><circle r="1.3" cx="240.0" cy="166.3" fill="#b20082"/><circle r="1.3" cx="238.2" cy="184.1" fill="#e4005e"/><circle r="1.3" cx="300.9" cy="184.1" fill="#ff003c"/><circle r="1.3" cx="236.7" cy="184.1" fill="#3f42d3"/><circle r="1.3" cx="231.5" cy="179.1" fill="#0067f6"/><circle r="1.3" cx="233.9" cy="184.1" fill="#b60080"/><circle r="1.3" cx="233.7" cy="182.9" fill="#5835c3"/><circle r="1.3" cx="231.5" cy="184.1" fill="#a2018a"/><circle r="1.3" cx="210.5" cy="184.1" fill="#bd007c"/><circle r="1.3" cx="233.7" cy="185.4" fill="#5636c4"/><circle r="1.3" cx="292.8" cy="184.1" fill="#ff003c"/><circle r="1.3" cx="271.4" cy="184.1" fill="#ff003c"/><circle r="1.3" cx="215.7" cy="184.1" fill="#ee0055"/><circle r="1.3" cx="259.6" cy="184.1" fill="#ff003c"/><circle r="1.3" cx="231.5" cy="186.6" fill="#3a43d6"/><circle r="1.3" cx="210.5" cy="182.9" fill="#ad0084"/><circle r="1.3" cx="309.2" cy="184.1" fill="#ff003c"/><circle r="1.3" cx="231.5" cy="181.6" fill="#ea0059"/><circle r="1.3" cx="210.5" cy="185.4" fill="#ff003d"/><circle r="1.3" cx="254.8" cy="184.1" fill="#ff003c"/><circle r="1.3" cx="212.8" cy="184.1" fill="#d7006a"/><circle r="1.3" cx="287.9" cy="184.1" fill="#ff003c"/><circle r="1.3" cx="233.7" cy="184.1" fill="#3844d7"/><circle r="1.3" cx="257.6" cy="184.1" fill="#ff003c"/><circle r="1.3" cx="266.4" cy="184.1" fill="#ff003c"/><circle r="1.3" cx="231.5" cy="180.4" fill="#005bed"/><circle r="1.3" cx="220.7" cy="184.1" fill="#b20082"/><circle r="1.3" cx="240.3" cy="184.1" fill="#ee0055"/><circle r="1.3" cx="223.1" cy="184.1" fill="#ff003f"/><circle r="1.3" cx="243.7" cy="184.1" fill="#ff003c"/><circle r="1.3" cx="281.1" cy="184.1" fill="#ff003c"/><circle r="1.3" cx="231.5" cy="185.4" fill="#7d179e"/><circle r="1.3" cx="207.6" cy="185.4" fill="#ab0086"/><circle r="1.3" cx="252.4" cy="184.1" fill="#ff003c"/><circle r="1.3" cx="231.5" cy="189.1" fill="#97088f"/><circle r="1.3" cx="217.8" cy="184.1" fill="#f80049"/><circle r="1.3" cx="231.5" cy="182.9" fill="#d4006c"/><circle r="1.3" cx="220.7" cy="186.6" fill="#910b91"/><circle r="1.3" cx="262.1" cy="184.1" fill="#ff003c"/><circle r="1.3" cx="290.2" cy="184.1" fill="#ff003c"/><circle r="1.3" cx="220.7" cy="185.4" fill="#d1006e"/><circle r="1.3" cx="229.6" cy="185.4" fill="#f4004e"/><circle r="1.3" cx="223.1" cy="185.4" fill="#e5005d"/><circle r="1.3" cx="215.7" cy="185.4" fill="#e8005b"/><circle r="1.3" cx="220.7" cy="182.9" fill="#a2018a"/><circle r="1.3" cx="231.5" cy="187.9" fill="#006ef9"/><circle r="1.3" cx="223.1" cy="182.9" fill="#861095"/><circle r="1.3" cx="284.7" cy="184.1" fill="#ff003c"/><circle r="1.3" cx="229.6" cy="184.1" fill="#ee0054"/><circle r="1.3" cx="207.6" cy="184.1" fill="#d5006b"/><circle r="1.3" cx="213.3" cy="201.9" fill="#006bf8"/><circle r="1.3" cx="246.5" cy="203.6" fill="#dc0066"/><circle r="1.3" cx="226.8" cy="201.9" fill="#5139c8"/><circle r="1.3" cx="246.5" cy="205.2" fill="#ce0070"/><circle r="1.3" cx="229.9" cy="200.2" fill="#831197"/><circle r="1.3" cx="244.9" cy="205.2" fill="#fe0041"/><circle r="1.3" cx="224.7" cy="201.9" fill="#6d26b0"/><circle r="1.3" cx="246.5" cy="206.9" fill="#ff003f"/><circle r="1.3" cx="244.9" cy="200.2" fill="#dd0065"/><circle r="1.3" cx="207.3" cy="201.9" fill="#006bf8"/><circle r="1.3" cx="243.0" cy="201.9" fill="#7e169c"/><circle r="1.3" cx="239.9" cy="201.9" fill="#4d3bcb"/><circle r="1.3" cx="226.8" cy="203.6" fill="#5934c3"/><circle r="1.3" cx="215.8" cy="203.6" fill="#0352e6"/><circle r="1.3" cx="236.2" cy="203.6" fill="#682ab6"/><circle r="1.3" cx="186.5" cy="201.9" fill="#006bf8"/><circle r="1.3" cx="238.2" cy="201.9" fill="#3b43d5"/><circle r="1.3" cx="233.5" cy="201.9" fill="#f4004e"/><circle r="1.3" cx="236.2" cy="205.2" fill="#ff003f"/><circle r="1.3" cx="184.6" cy="201.9" fill="#006bf8"/><circle r="1.3" cx="218.5" cy="201.9" fill="#005cee"/><circle r="1.3" cx="229.1" cy="203.6" fill="#5139c9"/><circle r="1.3" cx="233.5" cy="206.9" fill="#f90048"/><circle r="1.3" cx="246.5" cy="200.2" fill="#f20050"/><circle r="1.3" cx="249.0" cy="201.9" fill="#ff003d"/><circle r="1.3" cx="242.8" cy="200.2" fill="#f6004b"/><circle r="1.3" cx="244.9" cy="198.6" fill="#ef0053"/><circle r="1.3" cx="233.5" cy="205.2" fill="#fe0041"/><circle r="1.3" cx="244.9" cy="201.9" fill="#d90068"/><circle r="1.3" cx="229.9" cy="205.2" fill="#97088f"/><circle r="1.3" cx="233.5" cy="198.6" fill="#fc0043"/><circle r="1.3" cx="222.4" cy="201.9" fill="#5437c6"/><circle r="1.3" cx="221.7" cy="201.9" fill="#0061f2"/><circle r="1.3" cx="203.2" cy="201.9" fill="#006bf8"/><circle r="1.3" cx="241.1" cy="203.6" fill="#6d27b1"/><circle r="1.3" cx="244.9" cy="196.9" fill="#c80075"/><circle r="1.3" cx="242.8" cy="201.9" fill="#f80049"/><circle r="1.3" cx="191.3" cy="201.9" fill="#006bf8"/><circle r="1.3" cx="249.0" cy="203.6" fill="#ff0038"/><circle r="1.3" cx="233.5" cy="203.6" fill="#df0063"/><circle r="1.3" cx="222.4" cy="203.6" fill="#0054e7"/><circle r="1.3" cx="229.1" cy="201.9" fill="#0056e9"/><circle r="1.3" cx="236.2" cy="200.2" fill="#f3004f"/><circle r="1.3" cx="233.5" cy="200.2" fill="#ff0039"/><circle r="1.3" cx="189.0" cy="201.9" fill="#006bf8"/><circle r="1.3" cx="244.9" cy="203.6" fill="#f80049"/><circle r="1.3" cx="215.8" cy="200.2" fill="#005bed"/><circle r="1.3" cx="246.5" cy="201.9" fill="#ff003e"/><circle r="1.3" cx="211.6" cy="201.9" fill="#006bf8"/><circle r="1.3" cx="215.8" cy="201.9" fill="#0059ec"/><circle r="1.3" cx="173.4" cy="201.9" fill="#006bf8"/><circle r="1.3" cx="246.5" cy="198.6" fill="#ee0054"/><circle r="1.3" cx="244.9" cy="206.9" fill="#d80069"/><circle r="1.3" cx="182.2" cy="201.9" fill="#006bf8"/><circle r="1.3" cx="242.8" cy="203.6" fill="#dc0066"/><circle r="1.3" cx="209.5" cy="201.9" fill="#006bf8"/><circle r="1.3" cx="236.2" cy="201.9" fill="#f5004d"/><circle r="1.3" cx="241.7" cy="219.7" fill="#fa0047"/><circle r="1.3" cx="252.4" cy="219.7" fill="#861095"/><circle r="1.3" cx="239.1" cy="223.5" fill="#ec0057"/><circle r="1.3" cx="202.9" cy="219.7" fill="#0068f6"/><circle r="1.3" cx="239.1" cy="216.0" fill="#e90059"/><circle r="1.3" cx="223.7" cy="221.0" fill="#4041d3"/><circle r="1.3" cx="213.3" cy="221.0" fill="#0067f6"/><circle r="1.3" cx="207.3" cy="219.7" fill="#006bf8"/><circle r="1.3" cx="230.8" cy="216.0" fill="#612fbc"/><circle r="1.3" cx="244.3" cy="218.5" fill="#ff0039"/><circle r="1.3" cx="227.8" cy="221.0" fill="#0060f1"/><circle r="1.3" cx="200.9" cy="219.7" fill="#0062f2"/><circle r="1.3" cx="216.4" cy="221.0" fill="#006bf8"/><circle r="1.3" cx="250.2" cy="219.7" fill="#a60088"/><circle r="1.3" cx="213.3" cy="219.7" fill="#0069f6"/><circle r="1.3" cx="230.8" cy="221.0" fill="#0063f3"/><circle r="1.3" cx="227.8" cy="219.7" fill="#0061f2"/><circle r="1.3" cx="246.8" cy="219.7" fill="#f5004c"/><circle r="1.3" cx="234.4" cy="219.7" fill="#f90048"/><circle r="1.3" cx="216.4" cy="219.7" fill="#0061f2"/><circle r="1.3" cx="241.7" cy="218.5" fill="#dc0065"/><circle r="1.3" cx="239.1" cy="222.2" fill="#fc0044"/><circle r="1.3" cx="237.0" cy="218.5" fill="#ce0070"/><circle r="1.3" cx="244.3" cy="221.0" fill="#f20051"/><circle r="1.3" cx="239.1" cy="218.5" fill="#cd0071"/><circle r="1.3" cx="226.8" cy="221.0" fill="#6d27b1"/><circle r="1.3" cx="216.4" cy="218.5" fill="#0067f5"/><circle r="1.3" cx="230.8" cy="214.7" fill="#5a34c2"/><circle r="1.3" cx="230.8" cy="218.5" fill="#0752e5"/><circle r="1.3" cx="257.3" cy="219.7" fill="#841196"/><circle r="1.3" cx="246.8" cy="221.0" fill="#ff003a"/><circle r="1.3" cx="230.8" cy="223.5" fill="#5f31be"/><circle r="1.3" cx="218.6" cy="219.7" fill="#950990"/><circle r="1.3" cx="226.8" cy="219.7" fill="#7321aa"/><circle r="1.3" cx="244.4" cy="219.7" fill="#930a90"/><circle r="1.3" cx="205.1" cy="219.7" fill="#006bf7"/><circle r="1.3" cx="237.0" cy="222.2" fill="#f7004b"/><circle r="1.3" cx="237.0" cy="221.0" fill="#e9005a"/><circle r="1.3" cx="220.7" cy="219.7" fill="#920b91"/><circle r="1.3" cx="223.7" cy="219.7" fill="#6929b4"/><circle r="1.3" cx="233.4" cy="219.7" fill="#5934c3"/><circle r="1.3" cx="211.3" cy="219.7" fill="#006bf8"/><circle r="1.3" cx="241.7" cy="221.0" fill="#ee0055"/><circle r="1.3" cx="249.0" cy="219.7" fill="#f3004f"/><circle r="1.3" cx="230.8" cy="222.2" fill="#5835c4"/><circle r="1.3" cx="239.1" cy="219.7" fill="#ff0038"/><circle r="1.3" cx="239.1" cy="217.2" fill="#fe0041"/><circle r="1.3" cx="208.3" cy="219.7" fill="#006bf8"/><circle r="1.3" cx="230.8" cy="217.2" fill="#0352e6"/><circle r="1.3" cx="239.1" cy="221.0" fill="#e9005a"/><circle r="1.3" cx="230.8" cy="219.7" fill="#6030bd"/><circle r="1.3" cx="230.8" cy="224.7" fill="#0061f2"/><circle r="1.3" cx="237.0" cy="219.7" fill="#b40081"/><circle r="1.3" cx="205.1" cy="237.5" fill="#0062f3"/><circle r="1.3" cx="236.6" cy="237.5" fill="#c60076"/><circle r="1.3" cx="183.4" cy="237.5" fill="#006bf8"/><circle r="1.3" cx="234.1" cy="241.3" fill="#d6006a"/><circle r="1.3" cx="238.5" cy="238.8" fill="#c80074"/><circle r="1.3" cx="245.7" cy="235.0" fill="#cd0071"/><circle r="1.3" cx="245.7" cy="241.3" fill="#c70075"/><circle r="1.3" cx="241.1" cy="236.3" fill="#f80049"/><circle r="1.3" cx="253.7" cy="237.5" fill="#7c199f"/><circle r="1.3" cx="231.4" cy="238.8" fill="#006cf8"/><circle r="1.3" cx="205.1" cy="238.8" fill="#0068f6"/><circle r="1.3" cx="248.0" cy="237.5" fill="#ff0038"/><circle r="1.3" cx="185.7" cy="237.5" fill="#006bf8"/><circle r="1.3" cx="232.1" cy="237.5" fill="#7b1aa1"/><circle r="1.3" cx="243.1" cy="237.5" fill="#cd0071"/><circle r="1.3" cx="234.1" cy="235.0" fill="#9d048c"/><circle r="1.3" cx="255.7" cy="237.5" fill="#781da4"/><circle r="1.3" cx="248.0" cy="238.8" fill="#fe0040"/><circle r="1.3" cx="248.0" cy="235.0" fill="#eb0058"/><circle r="1.3" cx="187.8" cy="237.5" fill="#006bf8"/><circle r="1.3" cx="248.0" cy="236.3" fill="#d6006b"/><circle r="1.3" cx="236.6" cy="238.8" fill="#8c0d93"/><circle r="1.3" cx="198.7" cy="237.5" fill="#006bf7"/><circle r="1.3" cx="241.1" cy="240.0" fill="#f4004f"/><circle r="1.3" cx="179.9" cy="237.5" fill="#006bf8"/><circle r="1.3" cx="203.2" cy="237.5" fill="#0069f7"/><circle r="1.3" cx="257.8" cy="237.5" fill="#7f159b"/><circle r="1.3" cx="251.3" cy="237.5" fill="#831297"/><circle r="1.3" cx="194.1" cy="237.5" fill="#0069f7"/><circle r="1.3" cx="245.7" cy="242.5" fill="#ca0073"/><circle r="1.3" cx="238.5" cy="236.3" fill="#ff0037"/><circle r="1.3" cx="245.7" cy="233.8" fill="#8c0d93"/><circle r="1.3" cx="234.1" cy="237.5" fill="#890f94"/><circle r="1.3" cx="248.0" cy="240.0" fill="#f90048"/><circle r="1.3" cx="250.6" cy="237.5" fill="#e10061"/><circle r="1.3" cx="236.6" cy="236.3" fill="#db0066"/><circle r="1.3" cx="229.0" cy="236.3" fill="#006cf8"/><circle r="1.3" cx="234.1" cy="238.8" fill="#7b19a0"/><circle r="1.3" cx="245.7" cy="238.8" fill="#9d048c"/><circle r="1.3" cx="201.0" cy="237.5" fill="#0067f6"/><circle r="1.3" cx="243.1" cy="236.3" fill="#ea0059"/><circle r="1.3" cx="234.1" cy="236.3" fill="#c50076"/><circle r="1.3" cx="243.1" cy="238.8" fill="#ee0055"/><circle r="1.3" cx="238.5" cy="237.5" fill="#eb0058"/><circle r="1.3" cx="245.7" cy="236.3" fill="#f80048"/><circle r="1.3" cx="241.1" cy="237.5" fill="#940990"/><circle r="1.3" cx="234.1" cy="240.0" fill="#d1006e"/><circle r="1.3" cx="245.7" cy="237.5" fill="#930a91"/><circle r="1.3" cx="241.1" cy="238.8" fill="#c20078"/><circle r="1.3" cx="211.3" cy="237.5" fill="#006bf8"/><circle r="1.3" cx="231.4" cy="237.5" fill="#0068f6"/><circle r="1.3" cx="245.7" cy="240.0" fill="#a80087"/><circle r="1.3" cx="196.5" cy="237.5" fill="#0067f6"/><circle r="1.3" cx="226.6" cy="237.5" fill="#006df8"/><circle r="1.3" cx="229.0" cy="238.8" fill="#0067f5"/><circle r="1.3" cx="229.0" cy="237.5" fill="#0069f6"/><circle r="1.3" cx="253.6" cy="257.0" fill="#f20050"/><circle r="1.3" cx="241.2" cy="255.3" fill="#831297"/><circle r="1.3" cx="234.4" cy="257.0" fill="#e7005b"/><circle r="1.3" cx="215.4" cy="255.3" fill="#0061f2"/><circle r="1.3" cx="219.8" cy="257.0" fill="#0055e9"/><circle r="1.3" cx="251.2" cy="255.3" fill="#d6006a"/><circle r="1.3" cx="230.3" cy="257.0" fill="#006af7"/><circle r="1.3" cx="249.2" cy="258.6" fill="#a80087"/><circle r="1.3" cx="236.8" cy="255.3" fill="#e00063"/><circle r="1.3" cx="249.2" cy="255.3" fill="#af0084"/><circle r="1.3" cx="253.6" cy="253.6" fill="#dc0066"/><circle r="1.3" cx="222.3" cy="255.3" fill="#005bed"/><circle r="1.3" cx="210.6" cy="255.3" fill="#0063f3"/><circle r="1.3" cx="244.5" cy="257.0" fill="#fb0045"/><circle r="1.3" cx="244.5" cy="255.3" fill="#f6004b"/><circle r="1.3" cx="232.5" cy="255.3" fill="#006df8"/><circle r="1.3" cx="215.4" cy="253.6" fill="#0a51e5"/><circle r="1.3" cx="222.3" cy="257.0" fill="#1b4ee1"/><circle r="1.3" cx="244.5" cy="253.6" fill="#f5004d"/><circle r="1.3" cx="246.6" cy="252.0" fill="#aa0086"/><circle r="1.3" cx="246.6" cy="253.6" fill="#ee0055"/><circle r="1.3" cx="253.6" cy="255.3" fill="#f3004f"/><circle r="1.3" cx="246.6" cy="258.6" fill="#ce0070"/><circle r="1.3" cx="234.8" cy="253.6" fill="#006bf7"/><circle r="1.3" cx="217.5" cy="255.3" fill="#0055e9"/><circle r="1.3" cx="249.2" cy="253.6" fill="#c0007a"/><circle r="1.3" cx="222.3" cy="253.6" fill="#005ff1"/><circle r="1.3" cx="238.9" cy="255.3" fill="#b00083"/><circle r="1.3" cx="210.6" cy="257.0" fill="#194ee2"/><circle r="1.3" cx="244.5" cy="252.0" fill="#f7004b"/><circle r="1.3" cx="234.4" cy="255.3" fill="#a40089"/><circle r="1.3" cx="234.8" cy="258.6" fill="#0068f6"/><circle r="1.3" cx="246.6" cy="255.3" fill="#ff003e"/><circle r="1.3" cx="215.4" cy="257.0" fill="#005cee"/><circle r="1.3" cx="230.3" cy="255.3" fill="#0061f2"/><circle r="1.3" cx="251.2" cy="257.0" fill="#ff003f"/><circle r="1.3" cx="249.2" cy="257.0" fill="#ff003c"/><circle r="1.3" cx="242.4" cy="255.3" fill="#d3006d"/><circle r="1.3" cx="212.9" cy="255.3" fill="#0054e7"/><circle r="1.3" cx="244.5" cy="258.6" fill="#e10062"/><circle r="1.3" cx="212.9" cy="257.0" fill="#006ef9"/><circle r="1.3" cx="224.5" cy="255.3" fill="#0070f9"/><circle r="1.3" cx="249.2" cy="252.0" fill="#b50080"/><circle r="1.3" cx="246.6" cy="257.0" fill="#c40077"/><circle r="1.3" cx="244.5" cy="260.3" fill="#c60076"/><circle r="1.3" cx="219.8" cy="255.3" fill="#2f48da"/><circle r="1.3" cx="235.7" cy="271.9" fill="#9c058d"/><circle r="1.3" cx="223.0" cy="271.9" fill="#d80069"/><circle r="1.3" cx="238.0" cy="273.1" fill="#851096"/><circle r="1.3" cx="235.7" cy="274.4" fill="#622fbb"/><circle r="1.3" cx="244.2" cy="271.9" fill="#da0067"/><circle r="1.3" cx="188.9" cy="273.1" fill="#ff003c"/><circle r="1.3" cx="218.1" cy="271.9" fill="#ff0038"/><circle r="1.3" cx="242.1" cy="273.1" fill="#0e51e4"/><circle r="1.3" cx="201.6" cy="273.1" fill="#ff003c"/><circle r="1.3" cx="227.7" cy="274.4" fill="#a1028a"/><circle r="1.3" cx="223.0" cy="274.4" fill="#ff003f"/><circle r="1.3" cx="239.9" cy="276.9" fill="#006ff9"/><circle r="1.3" cx="242.1" cy="276.9" fill="#4041d3"/><circle r="1.3" cx="227.7" cy="271.9" fill="#ff003c"/><circle r="1.3" cx="227.7" cy="273.1" fill="#fb0045"/><circle r="1.3" cx="242.1" cy="271.9" fill="#900c92"/><circle r="1.3" cx="242.1" cy="278.1" fill="#880f95"/><circle r="1.3" cx="217.8" cy="273.1" fill="#ff003c"/><circle r="1.3" cx="186.7" cy="273.1" fill="#ff003c"/><circle r="1.3" cx="218.1" cy="273.1" fill="#ff003d"/><circle r="1.3" cx="250.5" cy="273.1" fill="#ae0084"/><circle r="1.3" cx="223.0" cy="273.1" fill="#f5004d"/><circle r="1.3" cx="227.7" cy="275.6" fill="#f7004a"/><circle r="1.3" cx="244.3" cy="274.4" fill="#264bde"/><circle r="1.3" cx="239.9" cy="274.4" fill="#3745d7"/><circle r="1.3" cx="230.2" cy="273.1" fill="#b50080"/><circle r="1.3" cx="239.9" cy="275.6" fill="#006af7"/><circle r="1.3" cx="242.1" cy="269.4" fill="#005ff1"/><circle r="1.3" cx="239.9" cy="273.1" fill="#4140d2"/><circle r="1.3" cx="244.3" cy="273.1" fill="#7a1ba2"/><circle r="1.3" cx="248.5" cy="273.1" fill="#771ea6"/><circle r="1.3" cx="235.7" cy="273.1" fill="#0054e8"/><circle r="1.3" cx="242.1" cy="275.6" fill="#a0028b"/><circle r="1.3" cx="242.1" cy="270.6" fill="#0058eb"/><circle r="1.3" cx="242.1" cy="274.4" fill="#0060f1"/><circle r="1.3" cx="233.4" cy="274.4" fill="#005ff1"/><circle r="1.3" cx="204.1" cy="273.1" fill="#ff003c"/><circle r="1.3" cx="190.9" cy="273.1" fill="#ff003c"/><circle r="1.3" cx="235.7" cy="275.6" fill="#771ea5"/><circle r="1.3" cx="252.3" cy="273.1" fill="#97088f"/><circle r="1.3" cx="235.7" cy="270.6" fill="#5a34c2"/><circle r="1.3" cx="246.2" cy="273.1" fill="#791ca3"/><circle r="1.3" cx="225.4" cy="273.1" fill="#ee0055"/><circle r="1.3" cx="239.9" cy="271.9" fill="#642db9"/><circle r="1.3" cx="232.4" cy="273.1" fill="#a50088"/><circle r="1.3" cx="220.5" cy="273.1" fill="#fd0042"/><circle r="1.3" cx="239.9" cy="270.6" fill="#3346d9"/><circle r="1.3" cx="218.1" cy="274.4" fill="#e00062"/><circle r="1.3" cx="233.4" cy="271.9" fill="#493dcd"/><circle r="1.3" cx="214.5" cy="273.1" fill="#ff003c"/><circle r="1.3" cx="227.7" cy="270.6" fill="#e30060"/><circle r="1.3" cx="242.1" cy="294.6" fill="#0059eb"/><circle r="1.3" cx="228.3" cy="289.6" fill="#ca0073"/><circle r="1.3" cx="242.1" cy="287.1" fill="#005cee"/><circle r="1.3" cx="230.1" cy="292.1" fill="#cc0072"/><circle r="1.3" cx="228.3" cy="293.4" fill="#c80074"/><circle r="1.3" cx="230.1" cy="289.6" fill="#aa0086"/><circle r="1.3" cx="244.2" cy="292.1" fill="#0058eb"/><circle r="1.3" cx="248.1" cy="290.9" fill="#0060f1"/><circle r="1.3" cx="242.1" cy="289.6" fill="#0452e6"/><circle r="1.3" cx="216.0" cy="290.9" fill="#fe0040"/><circle r="1.3" cx="235.5" cy="290.9" fill="#006bf8"/><circle r="1.3" cx="238.0" cy="290.9" fill="#4141d2"/><circle r="1.3" cx="231.6" cy="290.9" fill="#f3004f"/><circle r="1.3" cx="251.7" cy="290.9" fill="#0064f4"/><circle r="1.3" cx="242.1" cy="292.1" fill="#0452e6"/><circle r="1.3" cx="249.7" cy="290.9" fill="#0062f2"/><circle r="1.3" cx="228.3" cy="290.9" fill="#ec0057"/><circle r="1.3" cx="220.2" cy="289.6" fill="#ff0038"/><circle r="1.3" cx="224.2" cy="290.9" fill="#870f95"/><circle r="1.3" cx="243.9" cy="290.9" fill="#0060f1"/><circle r="1.3" cx="226.0" cy="292.1" fill="#8a0e94"/><circle r="1.3" cx="216.0" cy="292.1" fill="#c30078"/><circle r="1.3" cx="242.1" cy="290.9" fill="#005ff1"/><circle r="1.3" cx="218.0" cy="290.9" fill="#f6004c"/><circle r="1.3" cx="242.1" cy="293.4" fill="#0057ea"/><circle r="1.3" cx="240.6" cy="290.9" fill="#5c32c0"/><circle r="1.3" cx="220.2" cy="292.1" fill="#f90048"/><circle r="1.3" cx="218.0" cy="292.1" fill="#f6004b"/><circle r="1.3" cx="230.1" cy="290.9" fill="#98078e"/><circle r="1.3" cx="240.4" cy="290.9" fill="#006df8"/><circle r="1.3" cx="242.1" cy="288.4" fill="#0054e7"/><circle r="1.3" cx="230.1" cy="288.4" fill="#de0064"/><circle r="1.3" cx="226.4" cy="290.9" fill="#831297"/><circle r="1.3" cx="228.3" cy="292.1" fill="#eb0058"/><circle r="1.3" cx="222.4" cy="290.9" fill="#d6006b"/><circle r="1.3" cx="230.1" cy="293.4" fill="#f30050"/><circle r="1.3" cx="245.8" cy="290.9" fill="#0060f1"/><circle r="1.3" cx="228.3" cy="288.4" fill="#9e048c"/><circle r="1.3" cx="220.2" cy="290.9" fill="#ff0037"/><circle r="1.3" cx="222.2" cy="290.9" fill="#e6005d"/><circle r="1.3" cx="242.1" cy="295.9" fill="#0070f9"/><circle r="1.3" cx="242.6" cy="310.4" fill="#244bdf"/><circle r="1.3" cx="246.9" cy="308.7" fill="#005ef0"/><circle r="1.3" cx="216.2" cy="310.4" fill="#ea0059"/><circle r="1.3" cx="212.5" cy="308.7" fill="#e8005b"/><circle r="1.3" cx="214.4" cy="308.7" fill="#ff003a"/><circle r="1.3" cx="244.9" cy="308.7" fill="#0452e6"/><circle r="1.3" cx="234.8" cy="312.0" fill="#9c058d"/><circle r="1.3" cx="226.7" cy="307.0" fill="#cd0071"/><circle r="1.3" cx="242.6" cy="307.0" fill="#0056ea"/><circle r="1.3" cx="220.7" cy="308.7" fill="#4c3bcc"/><circle r="1.3" cx="210.8" cy="308.7" fill="#ff0039"/><circle r="1.3" cx="234.8" cy="310.4" fill="#005aed"/><circle r="1.3" cx="242.5" cy="308.7" fill="#174fe2"/><circle r="1.3" cx="265.7" cy="308.7" fill="#006bf8"/><circle r="1.3" cx="233.1" cy="307.0" fill="#3446d9"/><circle r="1.3" cx="250.4" cy="308.7" fill="#3d42d4"/><circle r="1.3" cx="224.7" cy="310.4" fill="#b50080"/><circle r="1.3" cx="226.7" cy="310.4" fill="#950990"/><circle r="1.3" cx="226.7" cy="308.7" fill="#a50088"/><circle r="1.3" cx="228.6" cy="307.0" fill="#9a068d"/><circle r="1.3" cx="258.3" cy="308.7" fill="#006bf8"/><circle r="1.3" cx="252.4" cy="308.7" fill="#5139c8"/><circle r="1.3" cx="218.3" cy="308.7" fill="#642db9"/><circle r="1.3" cx="234.8" cy="307.0" fill="#672bb6"/><circle r="1.3" cx="218.3" cy="310.4" fill="#98088f"/><circle r="1.3" cx="234.8" cy="305.4" fill="#920b91"/><circle r="1.3" cx="228.6" cy="313.7" fill="#c60076"/><circle r="1.3" cx="233.1" cy="310.4" fill="#1c4ee1"/><circle r="1.3" cx="248.7" cy="308.7" fill="#0064f4"/><circle r="1.3" cx="228.6" cy="305.4" fill="#a70088"/><circle r="1.3" cx="216.3" cy="308.7" fill="#cf0070"/><circle r="1.3" cx="228.6" cy="303.7" fill="#9c058d"/><circle r="1.3" cx="230.6" cy="310.4" fill="#a50088"/><circle r="1.3" cx="224.8" cy="308.7" fill="#1f4de0"/><circle r="1.3" cx="230.6" cy="308.7" fill="#b9007e"/><circle r="1.3" cx="238.8" cy="307.0" fill="#7520a8"/><circle r="1.3" cx="228.6" cy="310.4" fill="#ea0059"/><circle r="1.3" cx="222.3" cy="308.7" fill="#7f169b"/><circle r="1.3" cx="234.8" cy="308.7" fill="#6b28b3"/><circle r="1.3" cx="240.9" cy="308.7" fill="#771ea6"/><circle r="1.3" cx="204.1" cy="310.4" fill="#006bf8"/><circle r="1.3" cx="260.8" cy="308.7" fill="#006bf8"/><circle r="1.3" cx="238.8" cy="310.4" fill="#9f038b"/><circle r="1.3" cx="236.8" cy="310.4" fill="#4e3aca"/><circle r="1.3" cx="204.1" cy="308.7" fill="#006bf8"/><circle r="1.3" cx="238.8" cy="312.0" fill="#7123ac"/><circle r="1.3" cx="238.8" cy="308.7" fill="#761fa7"/><circle r="1.3" cx="236.8" cy="308.7" fill="#a30189"/><circle r="1.3" cx="228.6" cy="312.0" fill="#771ea6"/><circle r="1.3" cx="233.1" cy="308.7" fill="#97088f"/><circle r="1.3" cx="228.6" cy="308.7" fill="#f10051"/><circle r="1.3" cx="245.6" cy="328.2" fill="#950990"/><circle r="1.3" cx="227.8" cy="324.8" fill="#dc0065"/><circle r="1.3" cx="249.4" cy="328.2" fill="#4240d2"/><circle r="1.3" cx="227.8" cy="328.2" fill="#b8007e"/><circle r="1.3" cx="233.8" cy="323.2" fill="#ef0053"/><circle r="1.3" cx="237.6" cy="326.5" fill="#5835c3"/><circle r="1.3" cx="235.7" cy="326.5" fill="#851096"/><circle r="1.3" cx="219.6" cy="326.5" fill="#b60080"/><circle r="1.3" cx="249.3" cy="326.5" fill="#871095"/><circle r="1.3" cx="204.1" cy="326.5" fill="#006bf8"/><circle r="1.3" cx="247.3" cy="328.2" fill="#443fd1"/><circle r="1.3" cx="215.9" cy="326.5" fill="#3844d7"/><circle r="1.3" cx="225.8" cy="326.5" fill="#b30081"/><circle r="1.3" cx="227.8" cy="329.8" fill="#7f159b"/><circle r="1.3" cx="256.7" cy="326.5" fill="#8c0d93"/><circle r="1.3" cx="247.3" cy="326.5" fill="#6d26b1"/><circle r="1.3" cx="239.9" cy="326.5" fill="#7c19a0"/><circle r="1.3" cx="254.2" cy="326.5" fill="#8e0d93"/><circle r="1.3" cx="241.6" cy="326.5" fill="#8a0e94"/><circle r="1.3" cx="237.7" cy="328.2" fill="#dd0065"/><circle r="1.3" cx="233.8" cy="328.2" fill="#cf0070"/><circle r="1.3" cx="218.0" cy="326.5" fill="#b30081"/><circle r="1.3" cx="208.2" cy="326.5" fill="#ff003c"/><circle r="1.3" cx="221.6" cy="328.2" fill="#d1006e"/><circle r="1.3" cx="209.9" cy="326.5" fill="#443fd1"/><circle r="1.3" cx="227.8" cy="326.5" fill="#fb0045"/><circle r="1.3" cx="245.6" cy="326.5" fill="#164fe3"/><circle r="1.3" cx="231.8" cy="326.5" fill="#fa0047"/><circle r="1.3" cx="233.8" cy="326.5" fill="#7024ad"/><circle r="1.3" cx="219.6" cy="328.2" fill="#b00083"/><circle r="1.3" cx="243.5" cy="326.5" fill="#3346d9"/><circle r="1.3" cx="233.8" cy="331.5" fill="#682ab5"/><circle r="1.3" cx="229.7" cy="324.8" fill="#0058eb"/><circle r="1.3" cx="229.7" cy="328.2" fill="#0060f1"/><circle r="1.3" cx="223.7" cy="328.2" fill="#ee0054"/><circle r="1.3" cx="258.2" cy="326.5" fill="#900c92"/><circle r="1.3" cx="214.0" cy="326.5" fill="#e5005d"/><circle r="1.3" cx="229.7" cy="326.5" fill="#0752e5"/><circle r="1.3" cx="233.8" cy="324.8" fill="#7c19a0"/><circle r="1.3" cx="223.7" cy="326.5" fill="#f00053"/><circle r="1.3" cx="211.8" cy="326.5" fill="#a80087"/><circle r="1.3" cx="219.9" cy="324.8" fill="#ff0037"/><circle r="1.3" cx="221.6" cy="324.8" fill="#d3006d"/><circle r="1.3" cx="221.6" cy="329.8" fill="#ff003b"/><circle r="1.3" cx="225.8" cy="328.2" fill="#b10082"/><circle r="1.3" cx="221.6" cy="326.5" fill="#ff003a"/><circle r="1.3" cx="233.8" cy="329.8" fill="#0054e7"/><circle r="1.3" cx="208.2" cy="328.2" fill="#ff003c"/><circle r="1.3" cx="224.7" cy="339.3" fill="#861096"/><circle r="1.3" cx="241.6" cy="344.3" fill="#f4004e"/><circle r="1.3" cx="241.6" cy="349.3" fill="#f7004b"/><circle r="1.3" cx="222.8" cy="344.3" fill="#6d26b1"/><circle r="1.3" cx="243.5" cy="341.0" fill="#ed0056"/><circle r="1.3" cx="226.2" cy="342.6" fill="#801499"/><circle r="1.3" cx="243.5" cy="344.3" fill="#f7004a"/><circle r="1.3" cx="236.2" cy="346.0" fill="#0069f6"/><circle r="1.3" cx="241.6" cy="346.0" fill="#f7004a"/><circle r="1.3" cx="239.5" cy="344.3" fill="#fe0041"/><circle r="1.3" cx="243.5" cy="347.6" fill="#f80049"/><circle r="1.3" cx="246.9" cy="344.3" fill="#fe0041"/><circle r="1.3" cx="250.2" cy="344.3" fill="#ff003f"/><circle r="1.3" cx="237.8" cy="344.3" fill="#fc0044"/><circle r="1.3" cx="241.6" cy="342.6" fill="#ff003a"/><circle r="1.3" cx="244.8" cy="346.0" fill="#f20051"/><circle r="1.3" cx="228.7" cy="344.3" fill="#006ff9"/><circle r="1.3" cx="243.5" cy="342.6" fill="#f5004d"/><circle r="1.3" cx="236.2" cy="344.3" fill="#0067f6"/><circle r="1.3" cx="226.2" cy="347.6" fill="#920a91"/><circle r="1.3" cx="243.5" cy="346.0" fill="#f90048"/><circle r="1.3" cx="224.7" cy="342.6" fill="#7f159b"/><circle r="1.3" cx="224.7" cy="346.0" fill="#7222ab"/><circle r="1.3" cx="234.9" cy="346.0" fill="#0061f2"/><circle r="1.3" cx="226.2" cy="349.3" fill="#9d048c"/><circle r="1.3" cx="237.5" cy="344.3" fill="#0062f3"/><circle r="1.3" cx="226.2" cy="344.3" fill="#890f94"/><circle r="1.3" cx="224.7" cy="344.3" fill="#781da5"/><circle r="1.3" cx="226.2" cy="341.0" fill="#821297"/><circle r="1.3" cx="234.6" cy="344.3" fill="#b7007f"/><circle r="1.3" cx="226.2" cy="339.3" fill="#851096"/><circle r="1.3" cx="241.6" cy="341.0" fill="#ee0055"/><circle r="1.3" cx="229.8" cy="344.3" fill="#0065f5"/><circle r="1.3" cx="229.8" cy="346.0" fill="#0066f5"/><circle r="1.3" cx="233.0" cy="344.3" fill="#ad0084"/><circle r="1.3" cx="233.0" cy="341.0" fill="#8b0e94"/><circle r="1.3" cx="233.0" cy="347.6" fill="#950990"/><circle r="1.3" cx="233.0" cy="349.3" fill="#890f94"/><circle r="1.3" cx="233.0" cy="346.0" fill="#b20082"/><circle r="1.3" cx="224.7" cy="347.6" fill="#9b068d"/><circle r="1.3" cx="231.4" cy="346.0" fill="#be007b"/><circle r="1.3" cx="226.2" cy="346.0" fill="#6b28b3"/><circle r="1.3" cx="231.4" cy="344.3" fill="#006cf8"/><circle r="1.3" cx="252.3" cy="344.3" fill="#ff003a"/><circle r="1.3" cx="233.0" cy="342.6" fill="#c80075"/><circle r="1.3" cx="224.7" cy="349.3" fill="#7322aa"/><circle r="1.3" cx="224.7" cy="341.0" fill="#7421a9"/><circle r="1.3" cx="244.9" cy="344.3" fill="#f00052"/><circle r="1.3" cx="241.6" cy="347.6" fill="#fc0044"/><circle r="1.3" cx="228.2" cy="346.0" fill="#6b28b3"/><circle r="1.3" cx="228.9" cy="363.1" fill="#005def"/><circle r="1.3" cx="227.4" cy="362.1" fill="#2d48db"/><circle r="1.3" cx="238.3" cy="357.1" fill="#d6006a"/><circle r="1.3" cx="236.6" cy="365.1" fill="#d0006f"/><circle r="1.3" cx="227.4" cy="361.1" fill="#3745d7"/><circle r="1.3" cx="240.3" cy="361.1" fill="#9c058d"/><circle r="1.3" cx="229.3" cy="364.1" fill="#5934c2"/><circle r="1.3" cx="227.4" cy="364.1" fill="#3944d6"/><circle r="1.3" cx="230.4" cy="362.1" fill="#7b19a0"/><circle r="1.3" cx="223.7" cy="362.1" fill="#0068f6"/><circle r="1.3" cx="236.6" cy="363.1" fill="#dd0065"/><circle r="1.3" cx="240.3" cy="363.1" fill="#ba007d"/><circle r="1.3" cx="221.8" cy="362.1" fill="#006ef9"/><circle r="1.3" cx="238.3" cy="360.1" fill="#d0006f"/><circle r="1.3" cx="228.9" cy="361.1" fill="#0060f1"/><circle r="1.3" cx="234.5" cy="362.1" fill="#f90048"/><circle r="1.3" cx="236.6" cy="360.1" fill="#b60080"/><circle r="1.3" cx="236.6" cy="364.1" fill="#be007b"/><circle r="1.3" cx="238.3" cy="366.1" fill="#f7004b"/><circle r="1.3" cx="238.3" cy="364.1" fill="#a90087"/><circle r="1.3" cx="236.6" cy="362.1" fill="#fa0046"/><circle r="1.3" cx="238.3" cy="361.1" fill="#b40080"/><circle r="1.3" cx="242.3" cy="362.1" fill="#de0064"/><circle r="1.3" cx="238.3" cy="359.1" fill="#b30081"/><circle r="1.3" cx="227.4" cy="363.1" fill="#1a4ee2"/><circle r="1.3" cx="223.7" cy="363.1" fill="#0064f4"/><circle r="1.3" cx="238.3" cy="365.1" fill="#be007b"/><circle r="1.3" cx="225.7" cy="363.1" fill="#006ff9"/><circle r="1.3" cx="238.3" cy="363.1" fill="#e9005a"/><circle r="1.3" cx="238.3" cy="358.1" fill="#f20050"/><circle r="1.3" cx="236.6" cy="361.1" fill="#fd0042"/><circle r="1.3" cx="240.3" cy="362.1" fill="#e00062"/><circle r="1.3" cx="232.1" cy="362.1" fill="#3745d7"/><circle r="1.3" cx="238.3" cy="367.1" fill="#bf007a"/><circle r="1.3" cx="228.9" cy="362.1" fill="#0068f6"/><circle r="1.3" cx="233.8" cy="362.1" fill="#284add"/><circle r="1.3" cx="238.3" cy="362.1" fill="#9c058d"/><circle r="1.3" cx="225.8" cy="362.1" fill="#3346d9"/><circle r="1.3" cx="225.7" cy="361.1" fill="#0063f3"/><circle r="1.3" cx="214.1" cy="379.9" fill="#ff003c"/><circle r="1.3" cx="233.2" cy="377.4" fill="#8a0e94"/><circle r="1.3" cx="231.0" cy="383.2" fill="#8f0c92"/><circle r="1.3" cx="231.0" cy="377.4" fill="#bd007b"/><circle r="1.3" cx="206.6" cy="379.9" fill="#ff003c"/><circle r="1.3" cx="233.2" cy="378.2" fill="#a40089"/><circle r="1.3" cx="231.0" cy="381.6" fill="#9f038c"/><circle r="1.3" cx="229.2" cy="381.6" fill="#bf007b"/><circle r="1.3" cx="231.0" cy="379.1" fill="#96088f"/><circle r="1.3" cx="242.8" cy="379.9" fill="#006df8"/><circle r="1.3" cx="231.0" cy="382.4" fill="#b00083"/><circle r="1.3" cx="220.8" cy="379.9" fill="#ff003c"/><circle r="1.3" cx="237.2" cy="380.7" fill="#006cf8"/><circle r="1.3" cx="233.2" cy="379.9" fill="#d80069"/><circle r="1.3" cx="242.8" cy="380.7" fill="#006ef9"/><circle r="1.3" cx="231.0" cy="384.1" fill="#c80074"/><circle r="1.3" cx="231.0" cy="376.6" fill="#99078e"/><circle r="1.3" cx="237.2" cy="379.1" fill="#006cf8"/><circle r="1.3" cx="240.9" cy="379.9" fill="#006bf7"/><circle r="1.3" cx="231.0" cy="380.7" fill="#9c058d"/><circle r="1.3" cx="233.2" cy="383.2" fill="#b6007f"/><circle r="1.3" cx="229.2" cy="380.7" fill="#9f038b"/><circle r="1.3" cx="240.9" cy="380.7" fill="#006af7"/><circle r="1.3" cx="229.2" cy="379.9" fill="#a70088"/><circle r="1.3" cx="231.0" cy="378.2" fill="#880f95"/><circle r="1.3" cx="202.7" cy="379.9" fill="#ff003c"/><circle r="1.3" cx="238.8" cy="379.9" fill="#006cf8"/><circle r="1.3" cx="231.0" cy="379.9" fill="#9b058d"/><circle r="1.3" cx="229.2" cy="379.1" fill="#99078e"/><circle r="1.3" cx="231.0" cy="375.7" fill="#9d048c"/><circle r="1.3" cx="235.1" cy="379.1" fill="#af0083"/><circle r="1.3" cx="235.1" cy="379.9" fill="#a80087"/><circle r="1.3" cx="233.2" cy="382.4" fill="#b20082"/><circle r="1.3" cx="231.0" cy="374.9" fill="#9a068e"/><circle r="1.3" cx="235.1" cy="380.7" fill="#c90074"/><circle r="1.3" cx="233.2" cy="379.1" fill="#841196"/><circle r="1.3" cx="231.0" cy="384.9" fill="#c90073"/><circle r="1.3" cx="233.2" cy="381.6" fill="#d6006a"/><circle r="1.3" cx="237.2" cy="379.9" fill="#006ff9"/><circle r="1.3" cx="233.2" cy="380.7" fill="#bb007d"/><circle r="1.3" cx="223.8" cy="397.7" fill="#8c0d93"/><circle r="1.3" cx="241.2" cy="398.9" fill="#006ff9"/><circle r="1.3" cx="233.7" cy="397.7" fill="#a70088"/><circle r="1.3" cx="235.8" cy="398.9" fill="#ff003e"/><circle r="1.3" cx="239.2" cy="396.4" fill="#006af7"/><circle r="1.3" cx="225.5" cy="398.9" fill="#7b19a0"/><circle r="1.3" cx="235.8" cy="400.2" fill="#f5004d"/><circle r="1.3" cx="235.8" cy="396.4" fill="#ff003b"/><circle r="1.3" cx="232.0" cy="400.2" fill="#940a90"/><circle r="1.3" cx="235.8" cy="397.7" fill="#ff003c"/><circle r="1.3" cx="237.6" cy="400.2" fill="#0067f6"/><circle r="1.3" cx="235.8" cy="402.7" fill="#f10052"/><circle r="1.3" cx="233.8" cy="400.2" fill="#ff003d"/><circle r="1.3" cx="228.6" cy="397.7" fill="#7c199f"/><circle r="1.3" cx="239.2" cy="398.9" fill="#006cf8"/><circle r="1.3" cx="237.4" cy="396.4" fill="#fa0047"/><circle r="1.3" cx="244.5" cy="397.7" fill="#0070f9"/><circle r="1.3" cx="225.5" cy="397.7" fill="#7024ae"/><circle r="1.3" cx="239.2" cy="397.7" fill="#006af7"/><circle r="1.3" cx="232.0" cy="398.9" fill="#c0007a"/><circle r="1.3" cx="237.6" cy="398.9" fill="#006ff9"/><circle r="1.3" cx="233.8" cy="398.9" fill="#f00053"/><circle r="1.3" cx="235.8" cy="395.2" fill="#f80049"/><circle r="1.3" cx="241.2" cy="397.7" fill="#006ff9"/><circle r="1.3" cx="229.9" cy="397.7" fill="#7b1aa1"/><circle r="1.3" cx="244.5" cy="398.9" fill="#0061f2"/><circle r="1.3" cx="235.8" cy="401.4" fill="#f80049"/><circle r="1.3" cx="232.0" cy="396.4" fill="#e3005f"/><circle r="1.3" cx="232.0" cy="397.7" fill="#d3006d"/><circle r="1.3" cx="237.6" cy="397.7" fill="#0069f7"/><circle r="1.3" cx="229.9" cy="398.9" fill="#811398"/><circle r="1.3" cx="243.1" cy="397.7" fill="#0064f4"/><circle r="1.3" cx="228.6" cy="398.9" fill="#6f25af"/><circle r="1.3" cx="235.8" cy="393.9" fill="#f00052"/><circle r="1.3" cx="226.7" cy="397.7" fill="#7124ad"/><circle r="1.3" cx="230.2" cy="396.4" fill="#e10062"/><circle r="1.3" cx="233.8" cy="396.4" fill="#fb0045"/><circle r="1.3" cx="246.4" cy="397.7" fill="#0062f3"/><circle r="1.3" cx="239.8" cy="416.8" fill="#0065f4"/><circle r="1.3" cx="236.0" cy="414.2" fill="#005ff0"/><circle r="1.3" cx="236.0" cy="418.0" fill="#3d42d4"/><circle r="1.3" cx="233.8" cy="416.8" fill="#7b1aa0"/><circle r="1.3" cx="227.7" cy="416.8" fill="#f20050"/><circle r="1.3" cx="229.3" cy="416.8" fill="#e8005b"/><circle r="1.3" cx="242.1" cy="415.5" fill="#831297"/><circle r="1.3" cx="236.0" cy="419.2" fill="#0068f6"/><circle r="1.3" cx="238.0" cy="414.2" fill="#005cee"/><circle r="1.3" cx="238.0" cy="413.0" fill="#005ef0"/><circle r="1.3" cx="238.0" cy="419.2" fill="#0054e7"/><circle r="1.3" cx="234.2" cy="415.5" fill="#0057ea"/><circle r="1.3" cx="227.7" cy="415.5" fill="#ff003a"/><circle r="1.3" cx="233.8" cy="415.5" fill="#7a1ba2"/><circle r="1.3" cx="231.2" cy="416.8" fill="#df0063"/><circle r="1.3" cx="236.0" cy="413.0" fill="#005def"/><circle r="1.3" cx="226.2" cy="415.5" fill="#ca0073"/><circle r="1.3" cx="238.0" cy="420.5" fill="#5735c4"/><circle r="1.3" cx="239.8" cy="415.5" fill="#006df8"/><circle r="1.3" cx="238.0" cy="415.5" fill="#5138c8"/><circle r="1.3" cx="238.0" cy="418.0" fill="#0065f4"/><circle r="1.3" cx="238.0" cy="411.8" fill="#005def"/><circle r="1.3" cx="232.4" cy="415.5" fill="#a2018a"/><circle r="1.3" cx="240.1" cy="415.5" fill="#831297"/><circle r="1.3" cx="229.3" cy="415.5" fill="#b7007f"/><circle r="1.3" cx="236.0" cy="415.5" fill="#5934c2"/><circle r="1.3" cx="214.1" cy="415.5" fill="#ff003c"/><circle r="1.3" cx="231.0" cy="415.5" fill="#7f169c"/><circle r="1.3" cx="238.0" cy="416.8" fill="#0060f1"/><circle r="1.3" cx="236.0" cy="416.8" fill="#642dba"/><circle r="1.3" cx="234.2" cy="416.8" fill="#006bf8"/><circle r="1.3" cx="207.0" cy="415.5" fill="#ff003c"/><circle r="1.3" cx="229.9" cy="435.0" fill="#7123ac"/><circle r="1.3" cx="226.7" cy="435.0" fill="#6e26b0"/><circle r="1.3" cx="235.8" cy="431.6" fill="#0153e6"/><circle r="1.3" cx="234.1" cy="436.6" fill="#632eba"/><circle r="1.3" cx="235.8" cy="433.3" fill="#7024ae"/><circle r="1.3" cx="242.7" cy="433.3" fill="#f00052"/><circle r="1.3" cx="234.1" cy="438.3" fill="#224cdf"/><circle r="1.3" cx="235.8" cy="430.0" fill="#7520a8"/><circle r="1.3" cx="226.7" cy="433.3" fill="#6d27b1"/><circle r="1.3" cx="234.1" cy="433.3" fill="#0054e8"/><circle r="1.3" cx="241.4" cy="435.0" fill="#fb0045"/><circle r="1.3" cx="234.1" cy="431.6" fill="#7f169c"/><circle r="1.3" cx="228.2" cy="435.0" fill="#900c92"/><circle r="1.3" cx="235.8" cy="436.6" fill="#5b33c1"/><circle r="1.3" cx="228.2" cy="431.6" fill="#7c199f"/><circle r="1.3" cx="232.6" cy="431.6" fill="#6f25af"/><circle r="1.3" cx="239.8" cy="433.3" fill="#ff003c"/><circle r="1.3" cx="231.3" cy="435.0" fill="#5934c3"/><circle r="1.3" cx="237.3" cy="433.3" fill="#ff003a"/><circle r="1.3" cx="232.6" cy="436.6" fill="#0652e5"/><circle r="1.3" cx="234.1" cy="435.0" fill="#006bf7"/><circle r="1.3" cx="237.3" cy="435.0" fill="#f90048"/><circle r="1.3" cx="235.8" cy="435.0" fill="#3c43d5"/><circle r="1.3" cx="228.2" cy="433.3" fill="#7420a9"/><circle r="1.3" cx="231.3" cy="433.3" fill="#443fd0"/><circle r="1.3" cx="237.0" cy="433.3" fill="#4340d1"/><circle r="1.3" cx="241.4" cy="433.3" fill="#e30060"/><circle r="1.3" cx="239.8" cy="435.0" fill="#e3005f"/><circle r="1.3" cx="231.3" cy="431.6" fill="#910b91"/><circle r="1.3" cx="238.4" cy="433.3" fill="#ff003f"/><circle r="1.3" cx="232.6" cy="435.0" fill="#2e48db"/><circle r="1.3" cx="229.9" cy="433.3" fill="#900c92"/><circle r="1.3" cx="232.6" cy="433.3" fill="#7a1ba2"/><circle r="1.3" cx="234.1" cy="430.0" fill="#6f25af"/><circle r="1.3" cx="237.7" cy="449.9" fill="#d1006e"/><circle r="1.3" cx="234.6" cy="452.4" fill="#ba007d"/><circle r="1.3" cx="236.3" cy="449.9" fill="#dc0066"/><circle r="1.3" cx="234.6" cy="448.6" fill="#d90068"/><circle r="1.3" cx="233.2" cy="451.1" fill="#d5006b"/><circle r="1.3" cx="227.6" cy="451.1" fill="#473ece"/><circle r="1.3" cx="239.2" cy="451.1" fill="#b20082"/><circle r="1.3" cx="236.3" cy="447.4" fill="#c90074"/><circle r="1.3" cx="228.9" cy="451.1" fill="#791ba3"/><circle r="1.3" cx="234.6" cy="456.1" fill="#cc0072"/><circle r="1.3" cx="233.4" cy="452.4" fill="#642db9"/><circle r="1.3" cx="236.3" cy="453.6" fill="#db0066"/><circle r="1.3" cx="228.9" cy="452.4" fill="#7b1aa1"/><circle r="1.3" cx="237.7" cy="453.6" fill="#c60076"/><circle r="1.3" cx="234.6" cy="453.6" fill="#db0066"/><circle r="1.3" cx="234.6" cy="449.9" fill="#fe0040"/><circle r="1.3" cx="236.3" cy="452.4" fill="#cb0072"/><circle r="1.3" cx="230.3" cy="451.1" fill="#5a34c2"/><circle r="1.3" cx="234.6" cy="454.9" fill="#c0007a"/><circle r="1.3" cx="231.8" cy="448.6" fill="#244cdf"/><circle r="1.3" cx="231.8" cy="451.1" fill="#4240d1"/><circle r="1.3" cx="233.4" cy="449.9" fill="#5b33c1"/><circle r="1.3" cx="236.3" cy="454.9" fill="#bd007b"/><circle r="1.3" cx="237.7" cy="451.1" fill="#ff0037"/><circle r="1.3" cx="231.8" cy="449.9" fill="#682ab6"/><circle r="1.3" cx="236.3" cy="448.6" fill="#fa0046"/><circle r="1.3" cx="236.3" cy="451.1" fill="#e8005b"/><circle r="1.3" cx="231.8" cy="453.6" fill="#781ca4"/><circle r="1.3" cx="231.8" cy="452.4" fill="#1a4ee2"/><circle r="1.3" cx="237.7" cy="452.4" fill="#b40081"/><circle r="1.3" cx="228.9" cy="449.9" fill="#5c32c0"/><circle r="1.3" cx="230.3" cy="452.4" fill="#6f25af"/><circle r="1.3" cx="234.6" cy="447.4" fill="#f80049"/><circle r="1.3" cx="239.2" cy="452.4" fill="#ff003d"/><circle r="1.3" cx="234.6" cy="451.1" fill="#ff0037"/><circle r="1.3" cx="238.1" cy="468.9" fill="#f00052"/><circle r="1.3" cx="231.1" cy="465.6" fill="#0056e9"/><circle r="1.3" cx="236.6" cy="472.2" fill="#ff003b"/><circle r="1.3" cx="232.3" cy="470.6" fill="#5b33c1"/><circle r="1.3" cx="236.6" cy="468.9" fill="#ff0037"/><circle r="1.3" cx="231.1" cy="470.6" fill="#473ecf"/><circle r="1.3" cx="231.1" cy="472.2" fill="#0062f3"/><circle r="1.3" cx="229.9" cy="468.9" fill="#5f31be"/><circle r="1.3" cx="235.1" cy="470.6" fill="#ee0055"/><circle r="1.3" cx="229.9" cy="470.6" fill="#2a4add"/><circle r="1.3" cx="239.5" cy="468.9" fill="#f20051"/><circle r="1.3" cx="235.1" cy="468.9" fill="#f3004f"/><circle r="1.3" cx="239.5" cy="470.6" fill="#fb0045"/><circle r="1.3" cx="236.6" cy="467.2" fill="#fe0040"/><circle r="1.3" cx="229.9" cy="472.2" fill="#5735c4"/><circle r="1.3" cx="232.3" cy="468.9" fill="#4d3bcb"/><circle r="1.3" cx="232.3" cy="473.9" fill="#3446d8"/><circle r="1.3" cx="229.9" cy="467.2" fill="#453fd0"/><circle r="1.3" cx="233.7" cy="472.2" fill="#ec0057"/><circle r="1.3" cx="236.6" cy="470.6" fill="#e30060"/><circle r="1.3" cx="238.1" cy="470.6" fill="#fc0044"/><circle r="1.3" cx="233.8" cy="468.9" fill="#0060f2"/><circle r="1.3" cx="232.3" cy="467.2" fill="#5835c4"/><circle r="1.3" cx="233.7" cy="470.6" fill="#ff0037"/><circle r="1.3" cx="232.3" cy="465.6" fill="#0066f5"/><circle r="1.3" cx="231.1" cy="473.9" fill="#4041d3"/><circle r="1.3" cx="232.3" cy="472.2" fill="#0067f5"/><circle r="1.3" cx="231.1" cy="467.2" fill="#0062f2"/><circle r="1.3" cx="233.8" cy="467.2" fill="#2c49dc"/><circle r="1.3" cx="231.1" cy="468.9" fill="#622fbb"/><circle r="1.3" cx="232.1" cy="487.7" fill="#5934c3"/><circle r="1.3" cx="232.1" cy="488.7" fill="#006cf8"/><circle r="1.3" cx="236.5" cy="489.7" fill="#b10082"/><circle r="1.3" cx="233.6" cy="488.7" fill="#bc007c"/><circle r="1.3" cx="235.1" cy="484.7" fill="#c40077"/><circle r="1.3" cx="235.1" cy="490.7" fill="#ff003e"/><circle r="1.3" cx="236.5" cy="488.7" fill="#f00052"/><circle r="1.3" cx="232.1" cy="489.7" fill="#005aed"/><circle r="1.3" cx="235.1" cy="486.7" fill="#f20050"/><circle r="1.3" cx="235.1" cy="483.7" fill="#f3004f"/><circle r="1.3" cx="238.1" cy="487.7" fill="#f00053"/><circle r="1.3" cx="232.1" cy="483.7" fill="#642db9"/><circle r="1.3" cx="236.5" cy="485.7" fill="#f5004d"/><circle r="1.3" cx="230.5" cy="486.7" fill="#5835c3"/><circle r="1.3" cx="230.5" cy="487.7" fill="#0063f3"/><circle r="1.3" cx="232.1" cy="485.7" fill="#7d189f"/><circle r="1.3" cx="232.1" cy="482.7" fill="#7c19a0"/><circle r="1.3" cx="233.6" cy="489.7" fill="#d2006d"/><circle r="1.3" cx="232.1" cy="491.7" fill="#0070f9"/><circle r="1.3" cx="235.1" cy="488.7" fill="#de0064"/><circle r="1.3" cx="235.1" cy="487.7" fill="#fe0040"/><circle r="1.3" cx="234.0" cy="487.7" fill="#005bee"/><circle r="1.3" cx="235.1" cy="489.7" fill="#cf0070"/><circle r="1.3" cx="236.5" cy="484.7" fill="#c60075"/><circle r="1.3" cx="235.1" cy="485.7" fill="#c50077"/><circle r="1.3" cx="234.0" cy="486.7" fill="#0055e8"/><circle r="1.3" cx="236.5" cy="486.7" fill="#fa0047"/><circle r="1.3" cx="232.1" cy="490.7" fill="#0064f4"/><circle r="1.3" cx="232.1" cy="486.7" fill="#1d4de1"/><circle r="1.3" cx="236.5" cy="487.7" fill="#d0006f"/><circle r="1.3" cx="234.0" cy="484.7" fill="#0059eb"/><circle r="1.3" cx="232.1" cy="484.7" fill="#005bed"/><circle r="1.3" cx="238.1" cy="486.7" fill="#c50077"/><circle r="1.3" cx="234.0" cy="485.7" fill="#0353e6"/><circle r="1.3" cx="235.0" cy="508.2" fill="#006cf8"/><circle r="1.3" cx="239.2" cy="504.5" fill="#bd007b"/><circle r="1.3" cx="232.2" cy="508.2" fill="#0d51e4"/><circle r="1.3" cx="235.0" cy="507.0" fill="#006ff9"/><circle r="1.3" cx="235.0" cy="505.8" fill="#006ff9"/><circle r="1.3" cx="234.0" cy="500.8" fill="#005def"/><circle r="1.3" cx="235.0" cy="504.5" fill="#005ff1"/><circle r="1.3" cx="233.4" cy="504.5" fill="#821298"/><circle r="1.3" cx="232.1" cy="507.0" fill="#652cb8"/><circle r="1.3" cx="234.0" cy="505.8" fill="#0057ea"/><circle r="1.3" cx="234.0" cy="507.0" fill="#005def"/><circle r="1.3" cx="232.1" cy="505.8" fill="#5835c3"/><circle r="1.3" cx="232.1" cy="503.2" fill="#214ce0"/><circle r="1.3" cx="232.1" cy="504.5" fill="#7123ac"/><circle r="1.3" cx="237.9" cy="504.5" fill="#d1006e"/><circle r="1.3" cx="234.0" cy="502.0" fill="#005cef"/><circle r="1.3" cx="235.0" cy="503.2" fill="#0059ec"/><circle r="1.3" cx="234.0" cy="509.5" fill="#0069f7"/><circle r="1.3" cx="237.9" cy="505.8" fill="#bc007c"/><circle r="1.3" cx="234.0" cy="504.5" fill="#005aed"/><circle r="1.3" cx="234.0" cy="503.2" fill="#0059ec"/><circle r="1.3" cx="235.3" cy="502.0" fill="#ca0073"/><circle r="1.3" cx="230.4" cy="504.5" fill="#3e42d4"/><circle r="1.3" cx="234.0" cy="499.5" fill="#0064f4"/><circle r="1.3" cx="234.0" cy="508.2" fill="#0061f2"/><circle r="1.3" cx="236.4" cy="504.5" fill="#cd0071"/><circle r="1.3" cx="236.4" cy="505.8" fill="#de0064"/><circle r="1.3" cx="232.2" cy="502.0" fill="#006af7"/></g>
<g stroke="#808080" stroke-width="1.2"><line x1="95.0" x2="377.8" y1="522.8" y2="522.8"/><line x1="96.00" x2="96.00" y1="522.8" y2="525.3"/><line x1="130.55" x2="130.55" y1="522.8" y2="525.3"/><line x1="165.10" x2="165.10" y1="522.8" y2="525.3"/><line x1="199.65" x2="199.65" y1="522.8" y2="525.3"/><line x1="234.20" x2="234.20" y1="522.8" y2="525.3"/><line x1="268.75" x2="268.75" y1="522.8" y2="525.3"/><line x1="303.30" x2="303.30" y1="522.8" y2="525.3"/><line x1="337.85" x2="337.85" y1="522.8" y2="525.3"/><line x1="372.40" x2="372.40" y1="522.8" y2="525.3"/></g>
<g font-size="9.2" fill="#333" stroke="#333" stroke-width="0.22" text-anchor="end" transform=""><text x="79.0" y="28.30" textLength="60.50" lengthAdjust="spacingAndGlyphs">ΔCt AFAP1-AS1</text><text x="79.0" y="46.10" textLength="47.40" lengthAdjust="spacingAndGlyphs">Ct SOX2-OT</text><text x="79.0" y="63.90" textLength="55.40" lengthAdjust="spacingAndGlyphs">Ct LINC00261</text><text x="79.0" y="81.70" textLength="60.80" lengthAdjust="spacingAndGlyphs">ΔCt LINC00673</text><text x="79.0" y="99.50" textLength="63.30" lengthAdjust="spacingAndGlyphs">ΔCt LOC344887</text><text x="79.0" y="117.30" textLength="49.70" lengthAdjust="spacingAndGlyphs">Ct TP73-AS1</text><text x="79.0" y="135.10" textLength="65.20" lengthAdjust="spacingAndGlyphs">Ct MCM3AP-AS1</text><text x="79.0" y="152.90" textLength="52.70" lengthAdjust="spacingAndGlyphs">ΔCt SOX2-OT</text><text x="79.0" y="170.70" textLength="58.70" lengthAdjust="spacingAndGlyphs">Ct LOC344887</text><text x="79.0" y="188.50" textLength="58.70" lengthAdjust="spacingAndGlyphs">Ct LOC730101</text><text x="79.0" y="206.30" textLength="54.80" lengthAdjust="spacingAndGlyphs">Ct AFAP1-AS1</text><text x="79.0" y="224.10" textLength="70.30" lengthAdjust="spacingAndGlyphs">ΔCt MCM3AP-AS1</text><text x="79.0" y="241.90" textLength="55.10" lengthAdjust="spacingAndGlyphs">ΔCt TP73-AS1</text><text x="79.0" y="259.70" textLength="60.80" lengthAdjust="spacingAndGlyphs">ΔCt LINC00261</text><text x="79.0" y="277.50" textLength="53.00" lengthAdjust="spacingAndGlyphs">ΔCt TP53TG1</text><text x="79.0" y="295.30" textLength="54.30" lengthAdjust="spacingAndGlyphs">Ct C14orf132</text><text x="79.0" y="313.10" textLength="58.90" lengthAdjust="spacingAndGlyphs">ΔCt C14orf132</text><text x="79.0" y="330.90" textLength="55.40" lengthAdjust="spacingAndGlyphs">Ct LINC00968</text><text x="79.0" y="348.70" textLength="74.70" lengthAdjust="spacingAndGlyphs">ΔCt ADAMTS9-AS2</text><text x="79.0" y="366.50" textLength="69.30" lengthAdjust="spacingAndGlyphs">Ct ADAMTS9-AS2</text><text x="79.0" y="384.30" textLength="39.90" lengthAdjust="spacingAndGlyphs">Ct HAGLR</text><text x="79.0" y="402.10" textLength="60.80" lengthAdjust="spacingAndGlyphs">ΔCt LINC00968</text><text x="79.0" y="419.90" textLength="43.90" lengthAdjust="spacingAndGlyphs">ΔCt HAGLR</text><text x="79.0" y="437.70" textLength="55.40" lengthAdjust="spacingAndGlyphs">Ct LINC00673</text><text x="79.0" y="455.50" textLength="63.80" lengthAdjust="spacingAndGlyphs">ΔCt LOC730101</text><text x="79.0" y="473.30" textLength="61.00" lengthAdjust="spacingAndGlyphs">ΔCt LINC00312</text><text x="79.0" y="491.10" textLength="55.60" lengthAdjust="spacingAndGlyphs">Ct LINC00312</text><text x="79.0" y="508.90" textLength="48.00" lengthAdjust="spacingAndGlyphs">Ct TP53TG1</text></g>
<g font-size="7.7" fill="#333" stroke="#333" stroke-width="0.22" text-anchor="middle"><text x="96.00" y="533.0" textLength="20.6" lengthAdjust="spacingAndGlyphs">−0.20</text><text x="130.55" y="533.0" textLength="20.6" lengthAdjust="spacingAndGlyphs">−0.15</text><text x="165.10" y="533.0" textLength="20.6" lengthAdjust="spacingAndGlyphs">−0.10</text><text x="199.65" y="533.0" textLength="20.6" lengthAdjust="spacingAndGlyphs">−0.05</text><text x="234.20" y="533.0">0.00</text><text x="268.75" y="533.0">0.05</text><text x="303.30" y="533.0">0.10</text><text x="337.85" y="533.0">0.15</text><text x="372.40" y="533.0">0.20</text></g>
<text x="236.1" y="543.7" font-size="9.8" fill="#333" stroke="#333" stroke-width="0.3" text-anchor="middle" textLength="155.6" lengthAdjust="spacingAndGlyphs">SHAP value (impact on model output)</text>
<rect x="395.0" y="6.0" width="3.0" height="516.5" fill="url(#cb)"/>
<text x="400.5" y="8.6" font-size="7.2" fill="#333" stroke="#333" stroke-width="0.22">High</text>
<text x="400.5" y="526.0" font-size="7.2" fill="#333" stroke="#333" stroke-width="0.22">Low</text>
<text transform="translate(422.6,265.0) rotate(-90)" font-size="8.6" fill="#333" stroke="#333" stroke-width="0.22" text-anchor="middle">Feature value</text>
</g>
</svg>
</body></html>
